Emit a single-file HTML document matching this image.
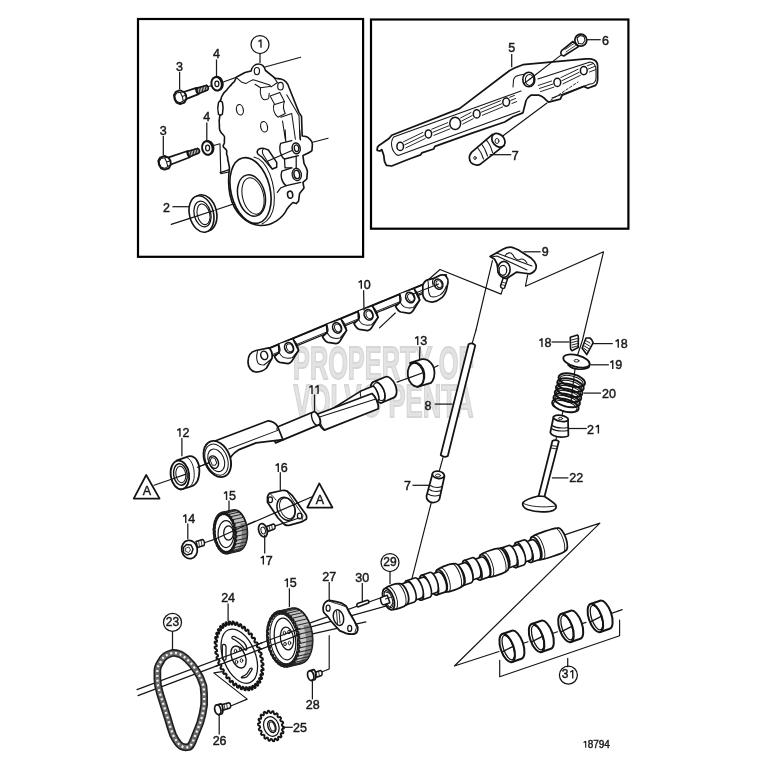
<!DOCTYPE html>
<html><head><meta charset="utf-8"><style>
html,body{margin:0;padding:0;background:#fff;}
svg{display:block;will-change:transform;}
text{font-family:"Liberation Sans",sans-serif;font-size:12.5px;fill:#1a1a1a;stroke:#1a1a1a;stroke-width:0.45px;}
</style></head><body>
<svg width="763" height="763" viewBox="0 0 763 763">

<g fill="none" stroke="#000" stroke-width="2.2">
<rect x="138" y="19" width="225.1" height="237.8"/>
<rect x="371" y="19.5" width="257.4" height="209.2"/>
</g>

<g style="font-family:'Liberation Sans',sans-serif;font-weight:bold">
<text x="293" y="379" textLength="181" lengthAdjust="spacingAndGlyphs" style="font-size:46.5px;fill:#e3e3e3;stroke:#d6d6d6;stroke-width:1.8px">PROPERTY OF</text>
<text x="293.5" y="417" textLength="180" lengthAdjust="spacingAndGlyphs" style="font-size:46.5px;fill:#e3e3e3;stroke:#d6d6d6;stroke-width:1.8px">VOLVO PENTA</text>
</g>

<g fill="none" stroke="#141414" stroke-width="1.15" stroke-linejoin="round" stroke-linecap="round">
<!-- axis lines -->
<line x1="223.9" y1="81.8" x2="250" y2="72.4"/>
<line x1="208.6" y1="86.5" x2="212" y2="85.5"/>
<line x1="265" y1="67" x2="300.6" y2="57.2"/>
<line x1="309" y1="143.3" x2="328" y2="138.2"/>
<line x1="171.2" y1="224.4" x2="189" y2="218.6"/>
<line x1="214" y1="210.5" x2="260.9" y2="194.9"/>
<line x1="220" y1="172.6" x2="296" y2="148.6"/>
<!-- bracket lower washer -->
<polyline points="213.5,145.5 220,143.8 220.8,173.6 229,172"/>
<!-- timing cover outline -->
<path fill="#fff" stroke-width="1.62" d="M236.6,77 L245,72.5 L251,71 C252,67 255,64 258.2,64 C261.5,64 264.5,66.5 265.5,70.5 L275.3,78.3 C277,78.8 279,78.5 281,79 C285,80 288,84 289,87.5 L298.9,112.4 L301.5,116.4 L302.2,136 C305,136 308,137 309.6,138.9 C311.5,140.5 312.4,142.5 312.4,144.5 L311.9,150.6 C310,152.5 306,154 302.9,155.6 L304,163.4 C305.5,166 307,169 307.4,171.2 L306.8,179 L302.9,182.4 L304,188 L299.6,193.5 L298.5,201.3 L296.2,203.6 L292.9,202.5 L289.6,205.8 L287,209 C283,218 272,226 260,225.5 C248,225 234,214 230,195 C228,185 228.5,175 229.5,168 L228.3,161.7 C227.2,159.5 228.2,157 227,155.2 C225.8,153 227.5,151.5 226.4,150 C225,148.5 223,147.5 223.1,146 C223.2,144.5 225,143.5 224.4,142.1 C224,139.5 225.5,137 223.8,135.5 C222,134 220.5,132.5 219.8,130.3 C218.8,127 219.8,125 219.2,122.4 C218.8,119 220.2,117 219.8,114.6 L219.2,102.8 C219.8,100.5 221,99.8 221.1,98.8 C221.2,96.5 222.5,95.5 223.1,94.2 C223.8,92 226,91 227,89.7 C227.8,88 229.8,86.5 231,85.1 C231.8,83.5 233.2,82.8 234.2,81.8 Z"/>
<!-- holes -->
<ellipse cx="256.9" cy="71.1" rx="2.6" ry="3.6"/>
<ellipse cx="280.5" cy="86.2" rx="2.8" ry="3.8"/>
<ellipse cx="239.9" cy="109.8" rx="3.4" ry="5.3" transform="rotate(-12 239.9 109.8)"/>
<ellipse cx="264.1" cy="126.8" rx="3.4" ry="5.3" transform="rotate(-12 264.1 126.8)"/>



<!-- inner ribs -->
<path stroke-width="1.03" d="M237.3,78.3 L241.9,82.3 L245.8,83.6 L249.1,81.6 L253,79.7 L255,80.2 L269.7,85.1 L271.1,86.9 L277.5,82.5"/>
<path stroke-width="1.03" d="M255,84.2 L260.5,87.8 L269.7,86.5 M260.5,87.8 C260,91 260.5,95 261.4,97 C262.5,99 264,100 265.1,99.8 C267,99.5 268.5,98.8 268.8,97.9 L269.2,93.3"/>
<path stroke-width="1.03" d="M270.1,96.1 L279.8,92.4 L284.4,101.6 L274.7,104.4 Z"/>
<path stroke-width="1.03" d="M274,104.5 C272.5,108 274,114.5 277.9,117.2 L285.3,113.5 C283.5,110 283,105 284.4,101.6"/>
<path stroke-width="1.03" d="M280.7,117.2 L291.7,113.5 L295.4,139.2 M282.5,120.9 L285.3,139.2"/>
<path stroke-width="1.03" d="M273.3,76.8 L277,81.9 M286.7,94.7 L299,115.8 L300,139.2"/>


<path fill="#fff" stroke-width="1.50" d="M218.5,102.5 C217.6,106 217.6,111 218.5,114.2 C219.5,115.3 221.5,115.2 222.4,114 C223.3,110.5 223.3,106 222.4,102.3 C221.5,100.8 219.4,100.9 218.5,102.5 Z"/>
<!-- right lugs -->
<path fill="#fff" stroke-width="1.38" d="M291.8,140.6 L280.6,143.4 C279.5,146 279.5,152 281.2,154.5 C282,157 283,158.5 284.5,159 L298.5,155.6"/>
<ellipse cx="296.2" cy="148.4" rx="4" ry="5.4" transform="rotate(-10 296.2 148.4)" fill="#fff" stroke-width="1.50"/>
<ellipse cx="296.5" cy="148.4" rx="2.2" ry="3.4" transform="rotate(-10 296.2 148.4)" stroke-width="1.25"/>
<path stroke-width="1.25" d="M284.5,159 L285,167.9 L291.8,167.9 M296.2,156 L296.2,167.9"/>
<path fill="#fff" stroke-width="1.38" d="M291.8,167.9 L281.8,171.2 C280.5,175 281,182 286.2,185.7 L300.7,182.4"/>
<ellipse cx="296.8" cy="174.5" rx="4.6" ry="6.2" transform="rotate(-10 296.8 174.5)" stroke-width="1.25"/>
<ellipse cx="296.8" cy="174.5" rx="2.8" ry="4.2" transform="rotate(-10 296.8 174.5)" fill="#fff" stroke-width="1.50"/>
<ellipse cx="290.1" cy="194.7" rx="2.6" ry="3.6" transform="rotate(-10 290.1 194.7)" stroke-width="1.50"/>
<path stroke-width="1.25" d="M280.6,188 L286.2,185.7 M277.3,192.4 L280.6,188"/>
<path fill="#fff" stroke-width="1.50" d="M257.8,150 C259,148.5 262,148 263.9,148.4 L268.4,150 L276.7,162.3 L276.7,167.3 L272.3,169 L268.4,164.6 L261.7,156.8 L257.8,154 C257,152.5 257,151 257.8,150 Z"/>
<path stroke-width="1.03" d="M263.9,148.4 C262,150 262,153 264,156 L272.3,169"/>
<path stroke-width="1.25" d="M285.1,130 L285.7,141.1 M299.6,130 L300.5,140"/>
<line x1="268" y1="161" x2="292" y2="150.5" stroke-width="1.25"/>
<!-- boss -->
<ellipse cx="250.5" cy="190.5" rx="19.5" ry="33.5" transform="rotate(-14 250.5 190.5)" stroke-width="1.62"/>
<path stroke-width="1.03" d="M254,157 C268,160 276,185 274,205 C273,214 268,221 262,224"/>
<ellipse cx="251.5" cy="195.5" rx="13.5" ry="21" transform="rotate(-14 251.5 195.5)" stroke-width="1.50"/>
<ellipse cx="253" cy="196" rx="10.5" ry="18.5" transform="rotate(-14 253 196)" stroke-width="1.03"/>
<!-- bolts -->
<g transform="translate(179.6,97.4) rotate(-19.6)">
<path fill="#fff" stroke-width="1.62" d="M18.45866050895871,-3.0 L28.95866050895871,-2.4 C30.758660508958712,-1.8 30.758660508958712,1.8 28.95866050895871,2.4 L18.45866050895871,3.0 Z"/>
<path stroke-width="0.92" d="M19.9,-2.8 L18.9,2.8 M21.5,-2.8 L20.5,2.8 M23.1,-2.8 L22.1,2.8 M24.7,-2.8 L23.7,2.8 M26.3,-2.8 L25.3,2.8 M27.9,-2.8 L26.9,2.8 M29.5,-2.8 L28.5,2.8"/>
<path fill="#fff" stroke-width="1.75" d="M4,-3.8 L18.95866050895871,-3.3 C17.45866050895871,-2.5 17.45866050895871,2.5 18.95866050895871,3.3 L4,3.8 Z"/>
<path fill="#fff" stroke-width="1.88" d="M-4.6,-4 L-1.8,-6.4 L2.8,-6.6 L6,-3.6 L6.8,0 L6,3.6 L2.8,6.6 L-1.8,6.4 L-4.6,4 L-5.3,0 Z"/>
<path stroke-width="1.03" d="M-4,-3 L-1.3,-5.2 L2.3,-4.7 L2.8,0 L2.3,4.7 L-1.3,5.2 L-4,3 L-4.5,0 Z M2.3,-4.7 L6,-3.6 M2.8,0 L6.8,0 M2.3,4.7 L6,3.6"/>
</g>
<g transform="translate(164,163) rotate(-19.8)">
<path fill="#fff" stroke-width="1.62" d="M25.73711700699989,-3.0 L36.23711700699989,-2.4 C38.037117006999885,-1.8 38.037117006999885,1.8 36.23711700699989,2.4 L25.73711700699989,3.0 Z"/>
<path stroke-width="0.92" d="M27.1,-2.8 L26.1,2.8 M28.7,-2.8 L27.7,2.8 M30.3,-2.8 L29.3,2.8 M31.9,-2.8 L30.9,2.8 M33.5,-2.8 L32.5,2.8 M35.1,-2.8 L34.1,2.8 M36.7,-2.8 L35.7,2.8"/>
<path fill="#fff" stroke-width="1.75" d="M4,-3.8 L26.23711700699989,-3.3 C24.73711700699989,-2.5 24.73711700699989,2.5 26.23711700699989,3.3 L4,3.8 Z"/>
<path fill="#fff" stroke-width="1.88" d="M-4.6,-4 L-1.8,-6.4 L2.8,-6.6 L6,-3.6 L6.8,0 L6,3.6 L2.8,6.6 L-1.8,6.4 L-4.6,4 L-5.3,0 Z"/>
<path stroke-width="1.03" d="M-4,-3 L-1.3,-5.2 L2.3,-4.7 L2.8,0 L2.3,4.7 L-1.3,5.2 L-4,3 L-4.5,0 Z M2.3,-4.7 L6,-3.6 M2.8,0 L6.8,0 M2.3,4.7 L6,3.6"/>
</g>
<!-- washers -->
<ellipse cx="217.6" cy="83.5" rx="5.2" ry="6.8" transform="rotate(-12 217.6 83.5)" fill="#fff" stroke-width="1.88"/>
<ellipse cx="216.6" cy="83.8" rx="5.2" ry="6.8" transform="rotate(-12 216.6 83.8)" fill="#fff" stroke-width="2.00"/>
<ellipse cx="216.9" cy="83.8" rx="2" ry="2.8" stroke-width="1.25"/>
<ellipse cx="208.3" cy="147.7" rx="5.2" ry="6.8" transform="rotate(-12 208.3 147.7)" fill="#fff" stroke-width="1.88"/>
<ellipse cx="207.3" cy="148" rx="5.2" ry="6.8" transform="rotate(-12 207.3 148)" fill="#fff" stroke-width="2.00"/>
<ellipse cx="207.60000000000002" cy="148" rx="2" ry="2.8" stroke-width="1.25"/>

<!-- seal 2 -->
<ellipse cx="204" cy="213" rx="12.5" ry="18.5" transform="rotate(-14 204 213)" fill="#fff" stroke-width="1.62"/>
<ellipse cx="201.5" cy="214" rx="12" ry="18.5" transform="rotate(-14 201.5 214)" fill="#fff" stroke-width="1.62"/>
<ellipse cx="202.5" cy="214" rx="8.3" ry="13" transform="rotate(-14 202.5 214)" stroke-width="1.25"/>
<ellipse cx="203.5" cy="214.3" rx="6.2" ry="10.5" transform="rotate(-14 203.5 214.3)" stroke-width="1.03"/>
<line x1="189" y1="218.6" x2="214" y2="210.5" stroke-width="1.25"/>
</g>

<g fill="none" stroke="#141414" stroke-width="1.15" stroke-linejoin="round" stroke-linecap="round">
<!-- rail outline -->
<path fill="#fff" stroke-width="1.75" d="M391.7,135.2 L459.5,108.6 L505,74 C508,71.5 511,69.5 514.5,68 L522.9,64.7 L585.8,58.8 L590.7,58.8 C595,59.5 597.6,62 597.6,65.7 L597.6,79.5 C597.6,82 597,84 595.6,85.4 L587.8,88.3 L583.8,86.4 L562.2,95.2 L560.3,99.1 L548.5,102.1 C545,99 542,95.5 538.6,95.2 L530.8,95.2 C528,97 526.5,99 525.9,101.1 L522.9,112.9 L513.1,116.8 L504.7,122 L472,133.2 L434.9,146.4 L433.6,149 L421.8,152.9 L420.5,154.9 L410,158.8 L404.8,160.8 L391.7,166 L386.4,165.4 L384.5,161.4 L383.8,155.5 L381.8,149.6 L379.9,151 L377.2,150.3 C377,148 377.5,146.5 378.6,145.7 L389,138.5 Z"/>
<!-- face -->
<path stroke-width="1.03" d="M393.6,137 L521,91 M398.2,155.5 L520,111 M393.6,137 C390,142 391,152 398.2,155.5"/>
<path stroke-width="1.03" d="M538,79 L590,62 C594,62 596,66 596,70 L596,78 C596,82 593,84 590,84 L552,98"/>
<path stroke-width="1.03" d="M513,87 L513.5,80 C514,77 517,75.5 520,75 L526,74"/>
<!-- grooves left -->
<path stroke-width="0.92" d="M403.6,141.7 L422.9,132.4 M404.7,144.8 L424.0,135.5 M405.8,147.9 L425.1,138.6 M431.7,129.2 L447.6,122.7 M432.8,132.3 L448.7,125.8 M433.9,135.4 L449.8,128.9 M460.6,117.9 L471.0,112.5 M461.7,121.0 L472.1,115.6 M462.8,124.1 L473.2,118.7 M480.2,109.1 L500.5,100.7 M481.3,112.2 L501.6,103.8 M482.4,115.3 L502.7,106.9 M509.7,97.3 L514.5,95.4 M510.8,100.4 L515.6,98.5 M511.9,103.5 L516.7,101.6 M538.3,85.4 L551.6,81.0 M539.4,88.5 L552.7,84.1 M540.5,91.6 L553.8,87.2 M560.8,77.6 L578.1,69.2 M561.9,80.7 L579.2,72.3 M563.0,83.8 L580.3,75.4 M587.3,65.8 L593.5,63.4 M588.4,68.9 L594.6,66.5 M589.5,72.0 L595.7,69.6"/>
<!-- holes -->
<ellipse cx="400.2" cy="146.4" rx="3.3" ry="4.1" fill="#fff" stroke-width="1.50"/>
<ellipse cx="428.4" cy="133.9" rx="3.2" ry="4" fill="#fff" stroke-width="1.50"/>
<ellipse cx="455.2" cy="123.4" rx="5.4" ry="6.2" fill="#fff" stroke-width="1.50"/>
<ellipse cx="476.7" cy="113.9" rx="3.4" ry="4.1" fill="#fff" stroke-width="1.50"/>
<ellipse cx="506.2" cy="102.1" rx="3.4" ry="4.1" fill="#fff" stroke-width="1.50"/>
<ellipse cx="557.3" cy="82.4" rx="3.4" ry="4.1" fill="#fff" stroke-width="1.50"/>
<ellipse cx="583.8" cy="70.6" rx="3.4" ry="4.1" fill="#fff" stroke-width="1.50"/>
<ellipse cx="528.8" cy="79.5" rx="6" ry="7.3" fill="#fff" stroke-width="1.62"/>
<ellipse cx="529.5" cy="80" rx="4.2" ry="5.4" stroke-width="1.03"/>
<line x1="530" y1="79" x2="524" y2="83.5" stroke-width="1.03"/>
<line x1="502.7" y1="136" x2="547" y2="103"/>
<path stroke-width="0.92" stroke-dasharray="2.5 2" d="M551,100 L578,82"/>
<line x1="562" y1="54.4" x2="530" y2="79"/>
<!-- bolt 6 -->
<path fill="#fff" stroke-width="1.62" d="M573,41.5 L561.6,50.7 C560,52.5 561,55 562.5,55.6 C563.5,56 564.5,55.8 564.8,55.3 L578.5,46.6 Z"/>
<path stroke-width="0.80" d="M565,49.5 L574,43.5 M566,52 L575.5,45.5"/>
<circle cx="580.8" cy="40.1" r="6" fill="#fff" stroke-width="1.75"/>
<path stroke-width="1.03" d="M577,38 L580,35.5 L584,36.5 L585,40.5 L582.5,44 L578.5,43.5 Z"/>
<!-- lifter 7 -->
<path fill="#fff" stroke-width="1.75" d="M492.5,134.4 L471.7,152.1 C468,156 469,162 473,164 C476,165.5 479,165 480.7,163.9 L504.3,145.4 Z"/>
<ellipse cx="498.4" cy="140.3" rx="5.8" ry="7.6" transform="rotate(-42 498.4 140.3)" fill="#fff" stroke-width="1.75"/>
<path stroke-width="1.03" d="M486.2,139.9 C489,143 491,147 492.5,152.5 M481.5,144 C484,147 486,151 487.5,156 M477.5,147.5 C480,150.5 482,154 483.5,159"/>
<ellipse cx="497" cy="141" rx="2" ry="2.5" stroke-width="0.92"/>
<ellipse cx="475" cy="158" rx="1.2" ry="1.5" stroke-width="0.92"/>
</g>

<g fill="none" stroke="#141414" stroke-width="1.15" stroke-linejoin="round" stroke-linecap="round">
<polyline points="427.5,280.5 440,269.5 501.1,294.1 502.5,289.5"/>
<line x1="379.5" y1="327.9" x2="395.3" y2="313"/>
<polyline points="527.7,274.9 525.4,286.3 603.5,251.8 582.5,340"/>
<line x1="492.4" y1="260.6" x2="476" y2="330"/>
<line x1="472.3" y1="342.8" x2="476" y2="330"/>
<path fill="#fff" stroke-width="1.38" d="M258,352.9 L446,274.9 L446,283.9 L258,361.9 Z"/>
<line x1="258" y1="352.9" x2="446" y2="274.9" stroke-width="1.88"/>
<line x1="258" y1="360.5" x2="446" y2="282.5" stroke-width="0.92"/>
<g transform="translate(289.1,347.8)"><path fill="#fff" stroke-width="1.75" d="M-10.5,-3.5 L-10,4.6 L-14.6,8.8 C-13,12 -11,14 -9.2,14.5 L-1,15.8 C1,15.5 2,14.5 2.8,13.3 L9.5,2.5 L4.2,-8.2"/><path stroke-width="1.03" d="M-10,4.6 C-8,9 -5,10.5 -1,10.5 L3,10 L9.5,2.5"/><path stroke-width="1.03" d="M-10.5,-3.5 C-9,0 -8,3 -10,4.6 M4.2,-8.2 C7,-6 9,-1 9.5,2.5"/><ellipse cx="0" cy="0" rx="4.3" ry="5.4" transform="rotate(-25)" fill="#fff" stroke-width="1.62"/><ellipse cx="0.6" cy="0.3" rx="3" ry="4" transform="rotate(-25)" stroke-width="0.92"/></g>
<g transform="translate(337.1,327.9)"><path fill="#fff" stroke-width="1.75" d="M-10.5,-3.5 L-10,4.6 L-14.6,8.8 C-13,12 -11,14 -9.2,14.5 L-1,15.8 C1,15.5 2,14.5 2.8,13.3 L9.5,2.5 L4.2,-8.2"/><path stroke-width="1.03" d="M-10,4.6 C-8,9 -5,10.5 -1,10.5 L3,10 L9.5,2.5"/><path stroke-width="1.03" d="M-10.5,-3.5 C-9,0 -8,3 -10,4.6 M4.2,-8.2 C7,-6 9,-1 9.5,2.5"/><ellipse cx="0" cy="0" rx="4.3" ry="5.4" transform="rotate(-25)" fill="#fff" stroke-width="1.62"/><ellipse cx="0.6" cy="0.3" rx="3" ry="4" transform="rotate(-25)" stroke-width="0.92"/></g>
<g transform="translate(368.6,314.8)"><path fill="#fff" stroke-width="1.75" d="M-10.5,-3.5 L-10,4.6 L-14.6,8.8 C-13,12 -11,14 -9.2,14.5 L-1,15.8 C1,15.5 2,14.5 2.8,13.3 L9.5,2.5 L4.2,-8.2"/><path stroke-width="1.03" d="M-10,4.6 C-8,9 -5,10.5 -1,10.5 L3,10 L9.5,2.5"/><path stroke-width="1.03" d="M-10.5,-3.5 C-9,0 -8,3 -10,4.6 M4.2,-8.2 C7,-6 9,-1 9.5,2.5"/><ellipse cx="0" cy="0" rx="4.3" ry="5.4" transform="rotate(-25)" fill="#fff" stroke-width="1.62"/><ellipse cx="0.6" cy="0.3" rx="3" ry="4" transform="rotate(-25)" stroke-width="0.92"/></g>
<g transform="translate(410.2,297.5)"><path fill="#fff" stroke-width="1.75" d="M-10.5,-3.5 L-10,4.6 L-14.6,8.8 C-13,12 -11,14 -9.2,14.5 L-1,15.8 C1,15.5 2,14.5 2.8,13.3 L9.5,2.5 L4.2,-8.2"/><path stroke-width="1.03" d="M-10,4.6 C-8,9 -5,10.5 -1,10.5 L3,10 L9.5,2.5"/><path stroke-width="1.03" d="M-10.5,-3.5 C-9,0 -8,3 -10,4.6 M4.2,-8.2 C7,-6 9,-1 9.5,2.5"/><ellipse cx="0" cy="0" rx="4.3" ry="5.4" transform="rotate(-25)" fill="#fff" stroke-width="1.62"/><ellipse cx="0.6" cy="0.3" rx="3" ry="4" transform="rotate(-25)" stroke-width="0.92"/></g>
<path fill="#fff" stroke-width="1.75" d="M248,362 C248,355.5 251.5,351.5 256,350.5 L268.8,347.8 C271.5,350 272.5,354 272.1,358 L266.5,368 C263.5,371 259.5,372 255.7,372 C251,371.5 248,367 248,362 Z"/>
<ellipse cx="264.2" cy="355.4" rx="3.4" ry="4.3" transform="rotate(-20 264.2 355.4)" stroke-width="1.50"/>
<path stroke-width="1.03" d="M257.5,351.5 C256.5,355 256.5,360 258,363 C259,364.5 261,365 264,365 L271.5,359"/>
<path fill="#fff" stroke-width="1.75" d="M422.8,285.4 C424,282 425.5,280.5 427.5,279.9 L433.8,278.4 L440.1,275.2 C443,274.5 445.5,275 446.4,276.8 C447.8,278.5 448.2,280.5 448,282.3 L446.4,290.2 C445,294 442.5,297.5 440.1,298.8 C437.5,301 435,302 432.2,302 C429.5,302 427.5,301.5 425.9,300.4 C424,298.5 423,296.5 422.8,294.9 Z"/>
<path stroke-width="1.03" d="M427.5,279.9 C428.5,282 428.5,285.5 428.3,288.6 C428.5,292 429,294.5 430.7,296.5 C434,297.5 437.5,296.5 440.1,294.9 C443,293 445,290 446.4,286 M433.8,278.4 C432.5,280 432.3,283 433,285"/>
<ellipse cx="438.5" cy="284.2" rx="4.2" ry="5.2" transform="rotate(-25 438.5 284.2)" fill="#fff" stroke-width="1.62"/>
<ellipse cx="439" cy="284.4" rx="2.7" ry="3.6" transform="rotate(-25 438.5 284.2)" stroke-width="0.92"/>
<line x1="413" y1="294" x2="438.5" y2="283.9" stroke-width="1.03"/>
<path fill="#fff" stroke-width="1.75" d="M490.1,256.5 L502.9,249.2 C506,247.5 509,247 512.1,247.3 C514.5,248 516.5,249 518.5,250.1 L531.4,258.3 C534,260.5 535.5,262.5 536,264.8 C536.5,267 536,269 535,270.3 C533,272.5 531,273.8 529.5,273.9 L523.1,273 L516.7,272.1 L512.1,274.9 L509.4,276.7 L505,280 L498.3,272.1 L497,263.9 L494.7,259.3 Z"/>
<path stroke-width="1.03" d="M491,257 L497,256 L527,270 M496.5,253 L532,266"/>
<path stroke-width="1.03" d="M505,256 C507,252 511,252 513,255 C514,258 517,260 519,260 C521,258 525,259 527,263"/>
<ellipse cx="503.9" cy="269.4" rx="6.2" ry="8" fill="#fff" stroke-width="1.62"/>
<ellipse cx="502.9" cy="270.3" rx="3.8" ry="5" stroke-width="1.25"/>
<path fill="#fff" stroke-width="1.50" d="M503.2,278 L500.5,286 C500.5,288 503,289 504.5,288 L507.5,279 Z"/>
<path stroke-width="0.80" d="M501.5,282 L505.5,283 M501,284.5 L505,285.5"/>
</g>
<g fill="none" stroke="#141414" stroke-width="1.15" stroke-linejoin="round" stroke-linecap="round">
<line x1="197.3" y1="467.2" x2="206" y2="464"/>
<line x1="397" y1="382.1" x2="409" y2="377.8"/>
<line x1="433.7" y1="367.7" x2="438.1" y2="365.6"/>
<g transform="translate(217.3,459) rotate(-22.6)">
<path fill="#fff" stroke-width="1.75" d="M174,-11.2 L186.5,-11.2 A6.2,11.2 0 0 1 186.5,11.2 L174,11.2 A6.2,11.2 0 0 1 174,-11.2 Z"/>
<ellipse cx="174" cy="0" rx="6.2" ry="11.2" fill="#fff" stroke-width="1.62"/>
<ellipse cx="175.2" cy="0" rx="4.9" ry="9.4" stroke-width="1.03"/>
<path fill="#fff" stroke-width="1.62" d="M122,-1.5 L158,-7.5 L172,-7.5 C174,-4 174,4 172,7.5 L158,8 L150,5 Z"/>
<path stroke-width="1.03" d="M158,-7.5 C155.5,-3 155.5,4 158,8"/>
<path fill="#fff" stroke-width="1.75" d="M108,-3 L168,-1 C170,3 170.5,11 168,15.5 L110,14.5 C107,11 106.5,2 108,-3 Z"/>
<path stroke-width="1.03" d="M110.5,0.5 L168.6,5.4 M110.5,14.5 C108.5,10 108.5,3 110.5,0.5"/>
<path fill="#fff" stroke-width="1.75" d="M60,-6.5 L108,-6.5 C111,-3 111,5 108,7.5 L60,7.5 Z"/>
<path stroke-width="1.38" d="M105,-6.5 C102,-3 102,5 105,7.5"/>
<path fill="#fff" stroke-width="1.75" d="M4,-17.5 L61,-15.8 C65,-14.5 68,-10 68.2,-6.5 L68,7.4 L42,0 L23,-0.3 C14,1 9,6 6,10 Z"/>
<path stroke-width="1.03" d="M14.4,-4.8 L66.8,-3.2 M68.2,-6.5 C66,-5 66,-4 66.8,-3.2"/>
<ellipse cx="0" cy="0" rx="12.7" ry="18.8" fill="#fff" stroke-width="1.88"/>
<ellipse cx="-1" cy="0.3" rx="10.8" ry="16.2" stroke-width="1.03"/>
<ellipse cx="-1.5" cy="0.8" rx="7.8" ry="11.8" stroke-width="1.03"/>
<ellipse cx="-4.5" cy="1.5" rx="4.5" ry="6.5" stroke-width="1.38"/>
<path stroke-width="0.92" d="M-7,-1.5 L-4.5,-3.5 L-2,-1.5 L-2,3.5 L-4.5,5 L-7,3.5 Z"/>
</g>
<line x1="204.8" y1="464.2" x2="209" y2="462.8" stroke-width="1.25"/>
<!-- bushing 13 -->
<path fill="#fff" stroke-width="1.75" d="M410.1,362.8 L421.9,359.2 C429,358.5 434.5,365 434.5,373 C434.5,380 431,384 429.1,383.4 L417.3,387 Z"/>
<ellipse cx="416.1" cy="374.6" rx="8.3" ry="12.1" transform="rotate(-8 416.1 374.6)" fill="#fff" stroke-width="1.75"/>
<path stroke-width="1.25" d="M412,363 C418,362 423,368 423.5,375 C424,381 422,385.5 419.5,386.5"/>
<line x1="409" y1="377.8" x2="422.2" y2="373" stroke-width="1.25"/>
<!-- push rod 8 -->
<path fill="#fff" stroke-width="1.75" d="M468.6,344.3 C470.5,343.2 473.5,343.5 475.3,345.3 L447.8,456 C446,457 443,457 440.7,455 Z"/>
<line x1="443" y1="457.7" x2="438.9" y2="472.5"/>
<!-- lifter 7 lower -->
<path fill="#fff" stroke-width="1.75" d="M432.5,474 L426.5,496 C426,500 429.5,502.5 433,502.5 C436.5,502.5 439,500.5 439.5,499 L444.5,476 Z"/>
<ellipse cx="438.3" cy="474.8" rx="6" ry="3.6" transform="rotate(10 438.3 474.8)" fill="#fff" stroke-width="1.75"/>
<path stroke-width="1.03" d="M430.5,485.5 C433,487.5 438,488 442,486.5 M429.5,489.5 C432,491.5 437,492 441,490.5 M428,494 C431,496 436,496.5 440,495"/>
<ellipse cx="438" cy="475.5" rx="2.5" ry="1.5" stroke-width="0.92"/>
<line x1="431.3" y1="502.5" x2="411.5" y2="580.3"/>
</g>

<g fill="none" stroke="#141414" stroke-width="1.15" stroke-linejoin="round" stroke-linecap="round">
<line x1="582.5" y1="340" x2="576" y2="360"/>
<line x1="575" y1="369" x2="571" y2="402"/>
<line x1="563" y1="411" x2="561.5" y2="418"/>
<line x1="556.5" y1="436.5" x2="556" y2="440"/>
<path fill="#fff" stroke-width="1.62" d="M570.3,337.3 L577.4,335 C578.5,335.5 578.5,336.5 578.4,338 L578.2,347.5 L571.9,350.7 C571,350 570.5,349 570.5,348 Z"/>
<path stroke-width="0.92" d="M571.5,340 L577.5,338.5 M571.8,342.5 L577.7,341 M572,345 L577.8,343.5 M572,347.5 L577.8,346"/>
<path fill="#fff" stroke-width="1.62" d="M586,338 L590,338 C591.5,339 592.5,340.5 593.1,342.8 L586.8,354.6 L582.1,348.3 Z"/>
<path stroke-width="0.92" d="M585.5,340.5 L590,343 M584.5,343 L589.5,346 M583.5,345.5 L588.5,348.5 M583.5,348 L587.5,351"/>
<path fill="#fff" stroke-width="1.62" d="M568,364.9 C571,368 576,369.5 580.8,369.2 C585,369 588,368 589.3,366.6"/>
<ellipse cx="576.5" cy="361" rx="13.6" ry="5.8" transform="rotate(15 576.5 361)" fill="#fff" stroke-width="1.75"/>
<ellipse cx="576.5" cy="360.8" rx="2.5" ry="1.3" stroke-width="0.92"/>
<ellipse cx="565.4" cy="405.4" rx="13.6" ry="6.2" transform="rotate(15 565.4 405.4)" stroke-width="1.88" />
<ellipse cx="565.4" cy="406.3" rx="12" ry="5" transform="rotate(15 565.4 405.4)" stroke-width="0.92" />
<ellipse cx="566.7" cy="400.4" rx="13.6" ry="6.2" transform="rotate(15 566.7 400.4)" stroke-width="1.88" />
<ellipse cx="566.7" cy="401.3" rx="12" ry="5" transform="rotate(15 566.7 400.4)" stroke-width="0.92" />
<ellipse cx="568.0" cy="395.3" rx="13.6" ry="6.2" transform="rotate(15 568.0 395.3)" stroke-width="1.88" />
<ellipse cx="568.0" cy="396.2" rx="12" ry="5" transform="rotate(15 568.0 395.3)" stroke-width="0.92" />
<ellipse cx="569.2" cy="390.3" rx="13.6" ry="6.2" transform="rotate(15 569.2 390.3)" stroke-width="1.88" />
<ellipse cx="569.2" cy="391.2" rx="12" ry="5" transform="rotate(15 569.2 390.3)" stroke-width="0.92" />
<ellipse cx="570.5" cy="385.2" rx="13.6" ry="6.2" transform="rotate(15 570.5 385.2)" stroke-width="1.88" />
<ellipse cx="570.5" cy="386.1" rx="12" ry="5" transform="rotate(15 570.5 385.2)" stroke-width="0.92" />
<ellipse cx="571.8" cy="380.2" rx="13.6" ry="6.2" transform="rotate(15 571.8 380.2)" stroke-width="1.88" />
<ellipse cx="571.8" cy="381.1" rx="12" ry="5" transform="rotate(15 571.8 380.2)" stroke-width="0.92" />
<path fill="#fff" stroke-width="1.75" d="M553.5,417 L550.3,432.5 C551,435 556,437 561,437 C565,437 568,436.5 568.4,435.5 L568,419.5 Z"/>
<ellipse cx="560.8" cy="418.3" rx="7.5" ry="3" transform="rotate(10 560.8 418.3)" fill="#fff" stroke-width="1.75"/>
<path stroke-width="1.03" d="M552,425.5 C555,427.5 562,428.5 568.2,427.5 M551.5,428.5 C554.5,430.5 561.5,431.5 568.3,430.5"/>
<ellipse cx="560.5" cy="418.5" rx="2.2" ry="1" stroke-width="0.92"/>
<path fill="#fff" stroke-width="1.75" d="M538.5,496.5 L552.4,441 C554,439.8 557.5,439.8 558.8,441.5 L544.5,496.5"/>
<path stroke-width="0.92" d="M551.5,445.5 L557.5,446.5 M551,448 L557,449"/>
<path fill="#fff" stroke-width="1.75" d="M523,502.5 C525.5,499.5 532,497.5 538.5,496 L544.5,496.5 C548.5,499 553,502 555.8,505 C557,508 555,510.5 550,511.3 C543,512.2 533,511.5 527.5,509.5 C523.5,508 522,505 523,502.5 Z"/>
<path stroke-width="0.92" d="M523.5,503.5 C529,506.5 543,508 555.5,506"/>
</g>
<g fill="none" stroke="#141414" stroke-width="1.15" stroke-linejoin="round" stroke-linecap="round">
<path fill="#fff" stroke-width="1.75" d="M146.2,475 L133.7,498.6 L159.6,498.6 Z"/>
<text x="146.8" y="495.2" text-anchor="middle" stroke="none" fill="#222" style="font-size:12.5px">A</text>
<line x1="154.1" y1="485.3" x2="172.2" y2="479"/>
<g transform="translate(1,-1.5)">
<path fill="#fff" stroke-width="1.75" d="M176,461.8 L187.5,457.8 C195,456.5 198.5,465 198.4,472 C198.3,480 195.5,486.5 190,488 L180,491 Z"/>
<ellipse cx="178.9" cy="476.4" rx="9.2" ry="14.4" transform="rotate(-8 178.9 476.4)" fill="#fff" stroke-width="1.88"/>
<ellipse cx="179.4" cy="476" rx="6.8" ry="10.8" transform="rotate(-8 179.4 476)" stroke-width="1.38"/>
<ellipse cx="179.8" cy="476" rx="4.9" ry="8.3" transform="rotate(-8 179.8 476)" stroke-width="1.03"/>
<path stroke-width="0.92" d="M186,459 C192,462 194,472 193,480 C192,485 190,488 187,489.5"/>
</g>
<line x1="172.2" y1="479" x2="186" y2="474.2" stroke-width="1.25"/>
<line x1="197.3" y1="467.2" x2="204" y2="464.7"/>
<path fill="#fff" stroke-width="1.75" d="M267.5,497 C268,495 269,493.5 270.1,493.1 L281.9,490.5 C284,490 286,490.5 287.2,491.1 L292.4,495.7 L305.5,514.1 C306.5,515.5 306.8,518 306.2,519.3 L301.6,521.9 L289.8,525.2 C288,525.5 286,525.3 284.6,524.6 L278,518 L267.5,502.3 Z"/>
<path stroke-width="0.92" d="M270,493.5 C273,496 274,498 276,500 M287,491.5 L290.5,497 L303,515.5 L302,520"/>
<ellipse cx="286.1" cy="508.8" rx="8.6" ry="12" transform="rotate(-22 286.1 508.8)" stroke-width="1.50"/>
<ellipse cx="287.2" cy="508.3" rx="7" ry="10.8" transform="rotate(-22 287.2 508.3)" stroke-width="0.92"/>
<ellipse cx="270.3" cy="499.7" rx="2.2" ry="2.8" stroke-width="1.25"/>
<ellipse cx="299.6" cy="516" rx="2.2" ry="2.8" stroke-width="1.25"/>
<path fill="#fff" stroke-width="1.75" d="M319.3,483.3 L307.3,507.5 L332.4,507.5 Z"/>
<text x="319.8" y="503.5" text-anchor="middle" stroke="none" fill="#222" style="font-size:12.5px">A</text>
<line x1="246.6" y1="525.2" x2="311.4" y2="497" stroke-width="1.25"/>
<line x1="274.7" y1="526.2" x2="299" y2="518" stroke-width="1.25"/>
<path fill="#fff" stroke-width="1.50" d="M266.5,526.5 L273.5,524 C275.5,524.5 275.5,528 274.5,529 L268,531.5 Z"/>
<path stroke-width="0.80" d="M269,525.5 L270,530.5 M271.5,524.8 L272.5,529.5"/>
<ellipse cx="262.9" cy="530.3" rx="4.2" ry="6.8" transform="rotate(-15 262.9 530.3)" fill="#fff" stroke-width="1.75"/>
<ellipse cx="263.2" cy="530.5" rx="2.2" ry="3.5" transform="rotate(-15 263.2 530.5)" stroke-width="0.92"/>
<line x1="205.1" y1="542.5" x2="216" y2="538.8" stroke-width="1.25"/>
<line x1="244" y1="526" x2="255" y2="521.2" stroke-width="1.25"/>
<path d="M213.66,530.60 L213.66,529.89 L213.67,529.18 L213.70,528.48 L213.74,527.78 L213.80,527.09 L213.87,526.41 L213.95,525.74 L214.04,525.07 L214.15,524.42 L214.28,523.77 L214.41,523.14 L214.56,522.51 L214.72,521.91 L214.90,521.31 L215.08,520.73 L215.28,520.16 L215.49,519.61 L215.71,519.08 L215.95,518.56 L216.19,518.06 L216.45,517.58 L216.71,517.11 L216.99,516.67 L217.27,516.25 L217.57,515.84 L217.87,515.46 L218.18,515.10 L218.50,514.76 L218.83,514.44 L219.17,514.15 L219.51,513.88 L219.86,513.63 L220.22,513.40 L220.58,513.20 L220.95,513.03 L221.32,512.88 L221.69,512.75 L222.07,512.64 L233.07,510.14 L233.46,510.07 L233.85,510.01 L234.24,509.98 L234.63,509.98 L235.02,510.00 L235.42,510.05 L235.81,510.12 L236.21,510.22 L236.61,510.34 L237.00,510.48 L237.39,510.65 L237.79,510.85 L238.18,511.07 L238.56,511.31 L238.95,511.57 L239.33,511.86 L239.70,512.17 L240.08,512.51 L240.44,512.86 L240.81,513.24 L241.16,513.64 L241.51,514.05 L241.85,514.49 L242.19,514.95 L242.52,515.43 L242.84,515.92 L243.15,516.43 L243.45,516.96 L243.75,517.51 L244.03,518.07 L244.31,518.65 L244.57,519.24 L244.82,519.85 L245.07,520.47 L245.30,521.10 L245.52,521.74 L245.73,522.39 L245.93,523.06 L246.11,523.73 L246.29,524.41 L246.45,525.10 L246.60,525.79 L246.73,526.49 L246.85,527.19 L246.96,527.90 L247.06,528.62 L247.14,529.33 L247.21,530.04 L247.26,530.76 L247.30,531.48 L247.33,532.19 L247.34,532.90 L247.34,533.61 L247.33,534.32 L247.30,535.02 L247.26,535.72 L247.20,536.41 L247.13,537.09 L247.05,537.76 L246.96,538.43 L246.85,539.08 L246.72,539.73 L246.59,540.36 L246.44,540.99 L246.28,541.59 L246.10,542.19 L245.92,542.77 L245.72,543.34 L245.51,543.89 L245.29,544.42 L245.05,544.94 L244.81,545.44 L244.55,545.92 L244.29,546.39 L244.01,546.83 L243.73,547.25 L243.43,547.66 L243.13,548.04 L242.82,548.40 L242.50,548.74 L242.17,549.06 L241.83,549.35 L241.49,549.62 L241.14,549.87 L240.78,550.10 L240.42,550.30 L240.05,550.47 L239.68,550.62 L239.31,550.75 L238.93,550.86 L227.93,553.36 L227.54,553.43 L227.15,553.49 L226.76,553.52 L226.37,553.52 L225.98,553.50 L225.58,553.45 L225.19,553.38 L224.79,553.28 L224.39,553.16 L224.00,553.02 L223.61,552.85 L223.21,552.65 L222.82,552.43 L222.44,552.19 L222.05,551.93 L221.67,551.64 L221.30,551.33 L220.92,550.99 L220.56,550.64 L220.19,550.26 L219.84,549.86 L219.49,549.45 L219.15,549.01 L218.81,548.55 L218.48,548.07 L218.16,547.58 L217.85,547.07 L217.55,546.54 L217.25,545.99 L216.97,545.43 L216.69,544.85 L216.43,544.26 L216.18,543.65 L215.93,543.03 L215.70,542.40 L215.48,541.76 L215.27,541.11 L215.07,540.44 L214.89,539.77 L214.71,539.09 L214.55,538.40 L214.40,537.71 L214.27,537.01 L214.15,536.31 L214.04,535.60 L213.94,534.88 L213.86,534.17 L213.79,533.46 L213.74,532.74 L213.70,532.02 L213.67,531.31 Z" fill="#c0c0c0" stroke="#141414" stroke-width="1.75"/>
<path d="M240.23,523.64 L240.70,525.32 L241.10,527.04 L241.41,528.80 L241.64,530.58 L241.78,532.37 L241.84,534.15 L241.82,535.92 L241.70,537.66 L241.51,539.35 L241.22,540.98 L240.86,542.54 L240.42,544.02 L239.90,545.41 L239.31,546.69 L238.65,547.86 L237.93,548.91 L237.16,549.82 L236.33,550.60 L235.46,551.24 L234.55,551.72 L233.62,552.06 L232.65,552.24 L231.67,552.26 L237.17,551.01 L238.15,550.99 L239.12,550.81 L240.05,550.47 L240.96,549.99 L241.83,549.35 L242.66,548.57 L243.43,547.66 L244.15,546.61 L244.81,545.44 L245.40,544.16 L245.92,542.77 L246.36,541.29 L246.72,539.73 L247.01,538.10 L247.20,536.41 L247.32,534.67 L247.34,532.90 L247.28,531.12 L247.14,529.33 L246.91,527.55 L246.60,525.79 L246.20,524.07 L245.73,522.39 Z" fill="#555" stroke="none" opacity="0.6"/>
<line x1="219.16" y1="514.16" x2="230.16" y2="511.66" stroke="#2a2a2a" stroke-width="1.03"/>
<line x1="221.35" y1="512.86" x2="232.35" y2="510.36" stroke="#2a2a2a" stroke-width="1.03"/>
<line x1="223.71" y1="512.48" x2="234.71" y2="509.98" stroke="#2a2a2a" stroke-width="1.03"/>
<line x1="226.12" y1="513.03" x2="237.12" y2="510.53" stroke="#2a2a2a" stroke-width="1.03"/>
<line x1="228.49" y1="514.49" x2="239.49" y2="511.99" stroke="#2a2a2a" stroke-width="1.03"/>
<line x1="230.70" y1="516.79" x2="241.70" y2="514.29" stroke="#2a2a2a" stroke-width="1.03"/>
<line x1="232.65" y1="519.82" x2="243.65" y2="517.32" stroke="#2a2a2a" stroke-width="1.03"/>
<line x1="234.25" y1="523.45" x2="245.25" y2="520.95" stroke="#2a2a2a" stroke-width="1.03"/>
<line x1="235.43" y1="527.52" x2="246.43" y2="525.02" stroke="#2a2a2a" stroke-width="1.03"/>
<line x1="236.14" y1="531.83" x2="247.14" y2="529.33" stroke="#2a2a2a" stroke-width="1.03"/>
<line x1="236.34" y1="536.20" x2="247.34" y2="533.70" stroke="#2a2a2a" stroke-width="1.03"/>
<line x1="236.03" y1="540.42" x2="247.03" y2="537.92" stroke="#2a2a2a" stroke-width="1.03"/>
<line x1="235.22" y1="544.30" x2="246.22" y2="541.80" stroke="#2a2a2a" stroke-width="1.03"/>
<line x1="233.94" y1="547.67" x2="244.94" y2="545.17" stroke="#2a2a2a" stroke-width="1.03"/>
<line x1="232.26" y1="550.38" x2="243.26" y2="547.88" stroke="#2a2a2a" stroke-width="1.03"/>
<line x1="230.25" y1="552.30" x2="241.25" y2="549.80" stroke="#2a2a2a" stroke-width="1.03"/>
<line x1="228.00" y1="553.34" x2="239.00" y2="550.84" stroke="#2a2a2a" stroke-width="1.03"/>
<line x1="225.62" y1="553.46" x2="236.62" y2="550.96" stroke="#2a2a2a" stroke-width="1.03"/>
<line x1="223.20" y1="552.65" x2="234.20" y2="550.15" stroke="#2a2a2a" stroke-width="1.03"/>
<path d="M236.14,531.83 L236.24,532.90 L235.40,533.90 L235.43,534.88 L236.34,536.11 L236.32,537.17 L235.36,537.80 L235.28,538.75 L236.05,540.26 L235.90,541.26 L234.87,541.49 L234.67,542.36 L235.28,544.09 L235.01,544.98 L233.94,544.81 L233.65,545.57 L234.05,547.44 L233.68,548.18 L232.63,547.62 L232.24,548.22 L232.43,550.16 L231.98,550.72 L230.98,549.78 L230.52,550.21 L230.49,552.12 L229.96,552.49 L229.07,551.21 L228.56,551.45 L228.31,553.25 L227.73,553.40 L226.98,551.85 L226.44,551.88 L225.98,553.50 L225.38,553.42 L224.81,551.66 L224.26,551.48 L223.61,552.85 L223.02,552.55 L222.64,550.66 L222.11,550.28 L221.30,551.33 L220.74,550.82 L220.58,548.88 L220.09,548.33 L219.15,549.01 L218.65,548.31 L218.71,546.41 L218.28,545.70 L217.25,545.99 L216.83,545.14 L217.12,543.36 L216.77,542.52 L215.70,542.40 L215.37,541.43 L215.87,539.85 L215.61,538.92 L214.55,538.40 L214.34,537.36 L215.02,536.04 L214.87,535.06 L213.86,534.17 L213.76,533.10 L214.60,532.10 L214.57,531.12 L213.66,529.89 L213.68,528.83 L214.64,528.20 L214.72,527.25 L213.95,525.74 L214.10,524.74 L215.13,524.51 L215.33,523.64 L214.72,521.91 L214.99,521.02 L216.06,521.19 L216.35,520.43 L215.95,518.56 L216.32,517.82 L217.37,518.38 L217.76,517.78 L217.57,515.84 L218.02,515.28 L219.02,516.22 L219.48,515.79 L219.51,513.88 L220.04,513.51 L220.93,514.79 L221.44,514.55 L221.69,512.75 L222.27,512.60 L223.02,514.15 L223.56,514.12 L224.02,512.50 L224.62,512.58 L225.19,514.34 L225.74,514.52 L226.39,513.15 L226.98,513.45 L227.36,515.34 L227.89,515.72 L228.70,514.67 L229.26,515.18 L229.42,517.12 L229.91,517.67 L230.85,516.99 L231.35,517.69 L231.29,519.59 L231.72,520.30 L232.75,520.01 L233.17,520.86 L232.88,522.64 L233.23,523.48 L234.30,523.60 L234.63,524.57 L234.13,526.15 L234.39,527.08 L235.45,527.60 L235.66,528.64 L234.98,529.96 L235.13,530.94 Z" fill="#fff" stroke="#1e1e1e" stroke-width="2.12"/>
<ellipse cx="225" cy="533" rx="9.8" ry="19" transform="rotate(-6 225 533)" stroke-width="1.03"/>
<ellipse cx="226" cy="534" rx="8" ry="13.5" stroke-width="1.25"/>
<ellipse cx="228.5" cy="533" rx="4.8" ry="7.2" stroke-width="1.25"/>
<line x1="216" y1="538.8" x2="244" y2="526" stroke-width="1.25"/>
<path fill="#fff" stroke-width="1.50" d="M196,541.5 L202.5,539.5 C204.5,540 205,544 204,545.5 L197.5,547.5 Z"/>
<path stroke-width="0.80" d="M198.5,540.8 L199.5,546.5 M201,540 L202,545.8"/>
<ellipse cx="189.5" cy="549.5" rx="7.8" ry="9.2" transform="rotate(-10 189.5 549.5)" fill="#fff" stroke-width="1.75"/>
<path fill="#fff" stroke-width="1.50" d="M183.5,547.5 L186.5,544.5 L191,545 L193,549 L191.5,553.5 L187,555 L183.5,552.5 Z"/>
<path stroke-width="0.80" d="M186,548 L189,547 L190.5,550 L188.5,552.5 L186,551.5 Z"/>
</g>
<g fill="none" stroke="#141414" stroke-width="1.15" stroke-linejoin="round" stroke-linecap="round">
<line x1="137" y1="689.6" x2="310" y2="624.8"/>
<line x1="138" y1="695.6" x2="310" y2="630.6"/>
<line x1="310.3" y1="622.9" x2="383.7" y2="596.7"/>
<line x1="310.3" y1="627.1" x2="385.8" y2="606.1"/>
<line x1="310.3" y1="634.4" x2="365.9" y2="621.9"/>
<polyline points="222.3,671.6 213.8,672.9 247.2,699.1 230.8,706"/>
<polyline points="329.2,635.5 329.2,669 321.5,672"/>
<g transform="translate(180.5,700) scale(0.9,0.95) translate(-180.5,-700)"><path d="M171.4,650.5 C165,652 160.5,655 158.6,659.6 C155.5,664 154.5,667 154.8,670.1 C154.5,676 155,681 155.6,685.2 C157,691 158.5,696 160.1,700.3 L166.1,718.4 C168,725 170,731 172.1,736.5 C175,742 178,746.5 181.2,748.5 C184,750 187.5,750 190.2,749.3 C192.5,748 193.5,745 194.7,742.5 L202.3,724.4 C204.5,718 206,711 206.8,704.8 C207,698 206.8,691 206,685.2 C204,678 201,673 197.8,668.6 C194,663 190.5,659.5 187.2,656.6 C184,654 181,652 178.2,651.3 C176,650.6 173.5,650.3 171.4,650.5 Z" stroke="#1e1e1e" stroke-width="7.75" vector-effect="non-scaling-stroke"/><path d="M171.4,650.5 C165,652 160.5,655 158.6,659.6 C155.5,664 154.5,667 154.8,670.1 C154.5,676 155,681 155.6,685.2 C157,691 158.5,696 160.1,700.3 L166.1,718.4 C168,725 170,731 172.1,736.5 C175,742 178,746.5 181.2,748.5 C184,750 187.5,750 190.2,749.3 C192.5,748 193.5,745 194.7,742.5 L202.3,724.4 C204.5,718 206,711 206.8,704.8 C207,698 206.8,691 206,685.2 C204,678 201,673 197.8,668.6 C194,663 190.5,659.5 187.2,656.6 C184,654 181,652 178.2,651.3 C176,650.6 173.5,650.3 171.4,650.5 Z" stroke="#6a6a6a" stroke-width="4.50" vector-effect="non-scaling-stroke"/><path d="M171.4,650.5 C165,652 160.5,655 158.6,659.6 C155.5,664 154.5,667 154.8,670.1 C154.5,676 155,681 155.6,685.2 C157,691 158.5,696 160.1,700.3 L166.1,718.4 C168,725 170,731 172.1,736.5 C175,742 178,746.5 181.2,748.5 C184,750 187.5,750 190.2,749.3 C192.5,748 193.5,745 194.7,742.5 L202.3,724.4 C204.5,718 206,711 206.8,704.8 C207,698 206.8,691 206,685.2 C204,678 201,673 197.8,668.6 C194,663 190.5,659.5 187.2,656.6 C184,654 181,652 178.2,651.3 C176,650.6 173.5,650.3 171.4,650.5 Z" stroke="#f4f4f4" stroke-width="2.25" stroke-dasharray="2 2.8" vector-effect="non-scaling-stroke" stroke-linecap="butt"/><path d="M171.4,650.5 C165,652 160.5,655 158.6,659.6 C155.5,664 154.5,667 154.8,670.1 C154.5,676 155,681 155.6,685.2 C157,691 158.5,696 160.1,700.3 L166.1,718.4 C168,725 170,731 172.1,736.5 C175,742 178,746.5 181.2,748.5 C184,750 187.5,750 190.2,749.3 C192.5,748 193.5,745 194.7,742.5 L202.3,724.4 C204.5,718 206,711 206.8,704.8 C207,698 206.8,691 206,685.2 C204,678 201,673 197.8,668.6 C194,663 190.5,659.5 187.2,656.6 C184,654 181,652 178.2,651.3 C176,650.6 173.5,650.3 171.4,650.5 Z" stroke="#2a2a2a" stroke-width="0.80" stroke-dasharray="4.8 0" stroke-linecap="butt" transform="translate(0,0)" opacity="0"/></g>
<path transform="translate(239.1,655.9) rotate(-22)" d="M22.00,0.00 L21.98,1.41 L20.07,2.58 L19.99,3.87 L21.73,5.63 L21.58,7.02 L19.57,7.69 L19.37,8.94 L20.92,11.12 L20.64,12.46 L18.60,12.61 L18.28,13.79 L19.60,16.34 L19.19,17.59 L17.16,17.21 L16.74,18.30 L17.80,21.16 L17.28,22.29 L15.31,21.39 L14.78,22.36 L15.56,25.46 L14.93,26.44 L13.07,25.05 L12.46,25.87 L12.93,29.12 L12.22,29.93 L10.52,28.09 L9.84,28.74 L9.99,32.08 L9.21,32.69 L7.70,30.43 L6.97,30.90 L6.80,34.24 L5.97,34.65 L4.70,32.03 L3.93,32.31 L3.44,35.56 L2.59,35.75 L1.58,32.84 L0.79,32.91 L0.00,36.00 L-0.86,35.97 L-1.58,32.84 L-2.37,32.71 L-3.44,35.56 L-4.29,35.31 L-4.70,32.03 L-5.46,31.70 L-6.80,34.24 L-7.61,33.77 L-7.70,30.43 L-8.43,29.91 L-9.99,32.08 L-10.75,31.41 L-10.52,28.09 L-11.18,27.39 L-12.93,29.12 L-13.62,28.27 L-13.07,25.05 L-13.66,24.19 L-15.56,25.46 L-16.16,24.44 L-15.31,21.39 L-15.81,20.39 L-17.80,21.16 L-18.29,20.00 L-17.16,17.21 L-17.56,16.10 L-19.60,16.34 L-19.98,15.07 L-18.60,12.61 L-18.89,11.40 L-20.92,11.12 L-21.17,9.77 L-19.57,7.69 L-19.74,6.43 L-21.73,5.63 L-21.85,4.23 L-20.07,2.58 L-20.11,1.29 L-22.00,0.00 L-21.98,-1.41 L-20.07,-2.58 L-19.99,-3.87 L-21.73,-5.63 L-21.58,-7.02 L-19.57,-7.69 L-19.37,-8.94 L-20.92,-11.12 L-20.64,-12.46 L-18.60,-12.61 L-18.28,-13.79 L-19.60,-16.34 L-19.19,-17.59 L-17.16,-17.21 L-16.74,-18.30 L-17.80,-21.16 L-17.28,-22.29 L-15.31,-21.39 L-14.78,-22.36 L-15.56,-25.46 L-14.93,-26.44 L-13.07,-25.05 L-12.46,-25.87 L-12.93,-29.12 L-12.22,-29.93 L-10.52,-28.09 L-9.84,-28.74 L-9.99,-32.08 L-9.21,-32.69 L-7.70,-30.43 L-6.97,-30.90 L-6.80,-34.24 L-5.97,-34.65 L-4.70,-32.03 L-3.93,-32.31 L-3.44,-35.56 L-2.59,-35.75 L-1.58,-32.84 L-0.79,-32.91 L-0.00,-36.00 L0.86,-35.97 L1.58,-32.84 L2.37,-32.71 L3.44,-35.56 L4.29,-35.31 L4.70,-32.03 L5.46,-31.70 L6.80,-34.24 L7.61,-33.77 L7.70,-30.43 L8.43,-29.91 L9.99,-32.08 L10.75,-31.41 L10.52,-28.09 L11.18,-27.39 L12.93,-29.12 L13.62,-28.27 L13.07,-25.05 L13.66,-24.19 L15.56,-25.46 L16.16,-24.44 L15.31,-21.39 L15.81,-20.39 L17.80,-21.16 L18.29,-20.00 L17.16,-17.21 L17.56,-16.10 L19.60,-16.34 L19.98,-15.07 L18.60,-12.61 L18.89,-11.40 L20.92,-11.12 L21.17,-9.77 L19.57,-7.69 L19.74,-6.43 L21.73,-5.63 L21.85,-4.23 L20.07,-2.58 L20.11,-1.29 Z" fill="#fff" stroke-width="2.00"/>
<ellipse cx="239.3" cy="656.2" rx="16" ry="28.5" transform="rotate(-22 239.3 656.2)" stroke-width="1.25"/>
<ellipse cx="238.5" cy="657" rx="6.8" ry="11.5" transform="rotate(-22 238.5 657)" stroke-width="1.38"/>
<path stroke-width="1.25" d="M232.8,636.5 C234,636.3 235.3,636.8 236.4,637.5 C239.5,639 242,640.5 243.8,642.3 C245.5,644 246.5,646.5 246.9,648.5 C247,649.5 246.2,650.5 245.4,650.1 C244,648.5 243,647 241.7,645.4 C239.5,643 237.5,641.5 235.4,640.2 L232.3,638.6 C231.5,638 231.8,636.8 232.8,636.5 Z"/>
<path stroke-width="1.25" d="M241.7,677.9 C243.5,678 245.5,677.6 246.9,676.8 C248.5,675 250,673 251.1,671.1 L252.2,669 C252.2,668 251,667.8 250.1,668.5 C249,670.5 248,672.2 246.9,673.7 C245.5,675 244,675.8 242.7,676.3 C241.5,676.8 241,677.5 241.7,677.9 Z"/>
<path stroke-width="1.25" d="M222.3,645.4 C222.8,644.6 223.6,644.2 224.4,644.4 C225.3,644.8 225.9,645.5 226,646.4 L226,659 C225.9,659.8 224.8,660.4 223.9,660.1 C223,659.8 222.4,658.9 222.3,658 Z"/>
<ellipse cx="235.5" cy="651" rx="1.3" ry="1.8" stroke-width="0.92"/>
<ellipse cx="240.5" cy="649" rx="1.3" ry="1.8" stroke-width="0.92"/>
<ellipse cx="236.5" cy="662" rx="1.3" ry="1.8" stroke-width="0.92"/>
<ellipse cx="241.5" cy="660.5" rx="1.3" ry="1.8" stroke-width="0.92"/>
<line x1="216" y1="660.0" x2="262" y2="642.8" stroke-width="1.25"/>
<line x1="216" y1="666.1" x2="262" y2="648.7" stroke-width="1.25"/>
<path d="M266.98,634.35 L267.00,633.40 L267.03,632.45 L267.08,631.51 L267.15,630.58 L267.24,629.66 L267.35,628.75 L267.48,627.85 L267.63,626.96 L267.80,626.10 L267.99,625.24 L268.19,624.40 L268.42,623.58 L268.66,622.78 L268.92,622.00 L269.20,621.24 L269.49,620.50 L269.80,619.78 L270.13,619.09 L270.47,618.42 L270.83,617.78 L271.21,617.16 L271.60,616.57 L272.00,616.00 L272.42,615.46 L272.85,614.95 L273.30,614.48 L273.75,614.03 L274.22,613.61 L274.70,613.22 L275.19,612.86 L275.69,612.53 L276.19,612.24 L276.71,611.98 L277.24,611.75 L277.77,611.56 L278.31,611.40 L278.85,611.27 L291.85,608.27 L292.40,608.17 L292.96,608.11 L293.52,608.08 L294.08,608.09 L294.65,608.13 L295.21,608.21 L295.78,608.32 L296.35,608.46 L296.92,608.63 L297.49,608.84 L298.06,609.08 L298.62,609.36 L299.18,609.66 L299.74,610.00 L300.30,610.37 L300.85,610.77 L301.39,611.21 L301.93,611.67 L302.46,612.16 L302.98,612.68 L303.50,613.23 L304.01,613.80 L304.50,614.41 L304.99,615.04 L305.47,615.69 L305.93,616.37 L306.39,617.07 L306.83,617.80 L307.26,618.55 L307.67,619.32 L308.07,620.11 L308.46,620.92 L308.83,621.74 L309.19,622.59 L309.53,623.45 L309.86,624.32 L310.16,625.21 L310.46,626.12 L310.73,627.03 L310.99,627.96 L311.23,628.89 L311.45,629.84 L311.65,630.79 L311.83,631.74 L312.00,632.71 L312.14,633.67 L312.27,634.64 L312.38,635.61 L312.46,636.58 L312.53,637.55 L312.58,638.52 L312.61,639.49 L312.62,640.45 L312.60,641.40 L312.57,642.35 L312.52,643.29 L312.45,644.22 L312.36,645.14 L312.25,646.05 L312.12,646.95 L311.97,647.84 L311.80,648.70 L311.61,649.56 L311.41,650.40 L311.18,651.22 L310.94,652.02 L310.68,652.80 L310.40,653.56 L310.11,654.30 L309.80,655.02 L309.47,655.71 L309.13,656.38 L308.77,657.02 L308.39,657.64 L308.00,658.23 L307.60,658.80 L307.18,659.34 L306.75,659.85 L306.30,660.32 L305.85,660.77 L305.38,661.19 L304.90,661.58 L304.41,661.94 L303.91,662.27 L303.41,662.56 L302.89,662.82 L302.36,663.05 L301.83,663.24 L301.29,663.40 L300.75,663.53 L287.75,666.53 L287.20,666.63 L286.64,666.69 L286.08,666.72 L285.52,666.71 L284.95,666.67 L284.39,666.59 L283.82,666.48 L283.25,666.34 L282.68,666.17 L282.11,665.96 L281.54,665.72 L280.98,665.44 L280.42,665.14 L279.86,664.80 L279.30,664.43 L278.75,664.03 L278.21,663.59 L277.67,663.13 L277.14,662.64 L276.62,662.12 L276.10,661.57 L275.59,661.00 L275.10,660.39 L274.61,659.76 L274.13,659.11 L273.67,658.43 L273.21,657.73 L272.77,657.00 L272.34,656.25 L271.93,655.48 L271.53,654.69 L271.14,653.88 L270.77,653.06 L270.41,652.21 L270.07,651.35 L269.74,650.48 L269.44,649.59 L269.14,648.68 L268.87,647.77 L268.61,646.84 L268.37,645.91 L268.15,644.96 L267.95,644.01 L267.77,643.06 L267.60,642.09 L267.46,641.13 L267.33,640.16 L267.22,639.19 L267.14,638.22 L267.07,637.25 L267.02,636.28 L266.99,635.31 Z" fill="#c8c8c8" stroke="#141414" stroke-width="1.75"/>
<path d="M303.36,625.82 L304.10,628.07 L304.73,630.39 L305.24,632.77 L305.64,635.17 L305.92,637.60 L306.08,640.02 L306.11,642.43 L306.02,644.79 L305.81,647.10 L305.47,649.34 L305.01,651.48 L304.44,653.52 L303.76,655.43 L302.97,657.21 L302.08,658.84 L301.10,660.30 L300.03,661.59 L298.88,662.69 L297.66,663.61 L296.39,664.32 L295.06,664.83 L293.70,665.13 L292.30,665.22 L298.80,663.72 L300.20,663.63 L301.56,663.33 L302.89,662.82 L304.16,662.11 L305.38,661.19 L306.53,660.09 L307.60,658.80 L308.58,657.34 L309.47,655.71 L310.26,653.93 L310.94,652.02 L311.51,649.98 L311.97,647.84 L312.31,645.60 L312.52,643.29 L312.61,640.93 L312.58,638.52 L312.42,636.10 L312.14,633.67 L311.74,631.27 L311.23,628.89 L310.60,626.57 L309.86,624.32 Z" fill="#555" stroke="none" opacity="0.6"/>
<line x1="274.21" y1="613.62" x2="287.21" y2="610.62" stroke="#2a2a2a" stroke-width="1.03"/>
<line x1="276.59" y1="612.04" x2="289.59" y2="609.04" stroke="#2a2a2a" stroke-width="1.03"/>
<line x1="279.15" y1="611.21" x2="292.15" y2="608.21" stroke="#2a2a2a" stroke-width="1.03"/>
<line x1="281.83" y1="611.15" x2="294.83" y2="608.15" stroke="#2a2a2a" stroke-width="1.03"/>
<line x1="284.55" y1="611.87" x2="297.55" y2="608.87" stroke="#2a2a2a" stroke-width="1.03"/>
<line x1="287.24" y1="613.33" x2="300.24" y2="610.33" stroke="#2a2a2a" stroke-width="1.03"/>
<line x1="289.82" y1="615.51" x2="302.82" y2="612.51" stroke="#2a2a2a" stroke-width="1.03"/>
<line x1="292.21" y1="618.34" x2="305.21" y2="615.34" stroke="#2a2a2a" stroke-width="1.03"/>
<line x1="294.36" y1="621.74" x2="307.36" y2="618.74" stroke="#2a2a2a" stroke-width="1.03"/>
<line x1="296.20" y1="625.62" x2="309.20" y2="622.62" stroke="#2a2a2a" stroke-width="1.03"/>
<line x1="297.68" y1="629.87" x2="310.68" y2="626.87" stroke="#2a2a2a" stroke-width="1.03"/>
<line x1="298.76" y1="634.37" x2="311.76" y2="631.37" stroke="#2a2a2a" stroke-width="1.03"/>
<line x1="299.41" y1="638.99" x2="312.41" y2="635.99" stroke="#2a2a2a" stroke-width="1.03"/>
<line x1="299.62" y1="643.62" x2="312.62" y2="640.62" stroke="#2a2a2a" stroke-width="1.03"/>
<line x1="299.36" y1="648.11" x2="312.36" y2="645.11" stroke="#2a2a2a" stroke-width="1.03"/>
<line x1="298.66" y1="652.34" x2="311.66" y2="649.34" stroke="#2a2a2a" stroke-width="1.03"/>
<line x1="297.54" y1="656.21" x2="310.54" y2="653.21" stroke="#2a2a2a" stroke-width="1.03"/>
<line x1="296.01" y1="659.59" x2="309.01" y2="656.59" stroke="#2a2a2a" stroke-width="1.03"/>
<line x1="294.14" y1="662.39" x2="307.14" y2="659.39" stroke="#2a2a2a" stroke-width="1.03"/>
<line x1="291.96" y1="664.54" x2="304.96" y2="661.54" stroke="#2a2a2a" stroke-width="1.03"/>
<line x1="289.54" y1="665.98" x2="302.54" y2="662.98" stroke="#2a2a2a" stroke-width="1.03"/>
<line x1="286.94" y1="666.66" x2="299.94" y2="663.66" stroke="#2a2a2a" stroke-width="1.03"/>
<line x1="284.25" y1="666.57" x2="297.25" y2="663.57" stroke="#2a2a2a" stroke-width="1.03"/>
<line x1="281.53" y1="665.71" x2="294.53" y2="662.71" stroke="#2a2a2a" stroke-width="1.03"/>
<path d="M299.14,636.67 L299.30,637.88 L298.29,639.08 L298.38,640.21 L299.58,641.52 L299.61,642.73 L298.47,643.57 L298.44,644.68 L299.52,646.29 L299.43,647.45 L298.19,647.92 L298.04,648.97 L298.97,650.84 L298.76,651.92 L297.45,651.99 L297.20,652.95 L297.94,655.02 L297.61,655.99 L296.28,655.67 L295.93,656.51 L296.47,658.71 L296.04,659.54 L294.72,658.84 L294.27,659.54 L294.60,661.80 L294.07,662.47 L292.81,661.40 L292.29,661.93 L292.38,664.19 L291.78,664.67 L290.61,663.27 L290.03,663.63 L289.89,665.82 L289.23,666.10 L288.19,664.41 L287.56,664.57 L287.20,666.63 L286.50,666.70 L285.63,664.77 L284.97,664.74 L284.39,666.59 L283.68,666.45 L282.99,664.34 L282.33,664.12 L281.54,665.72 L280.84,665.37 L280.36,663.15 L279.71,662.73 L278.75,664.03 L278.07,663.48 L277.82,661.21 L277.20,660.62 L276.10,661.57 L275.47,660.85 L275.44,658.60 L274.88,657.85 L273.67,658.43 L273.10,657.55 L273.31,655.39 L272.82,654.50 L271.53,654.69 L271.05,653.68 L271.48,651.67 L271.07,650.68 L269.74,650.48 L269.36,649.36 L270.00,647.57 L269.70,646.50 L268.37,645.91 L268.10,644.73 L268.94,643.21 L268.74,642.09 L267.46,641.13 L267.30,639.92 L268.31,638.72 L268.22,637.59 L267.02,636.28 L266.99,635.07 L268.13,634.23 L268.16,633.12 L267.08,631.51 L267.17,630.35 L268.41,629.88 L268.56,628.83 L267.63,626.96 L267.84,625.88 L269.15,625.81 L269.40,624.85 L268.66,622.78 L268.99,621.81 L270.32,622.13 L270.67,621.29 L270.13,619.09 L270.56,618.26 L271.88,618.96 L272.33,618.26 L272.00,616.00 L272.53,615.33 L273.79,616.40 L274.31,615.87 L274.22,613.61 L274.82,613.13 L275.99,614.53 L276.57,614.17 L276.71,611.98 L277.37,611.70 L278.41,613.39 L279.04,613.23 L279.40,611.17 L280.10,611.10 L280.97,613.03 L281.63,613.06 L282.21,611.21 L282.92,611.35 L283.61,613.46 L284.27,613.68 L285.06,612.08 L285.76,612.43 L286.24,614.65 L286.89,615.07 L287.85,613.77 L288.53,614.32 L288.78,616.59 L289.40,617.18 L290.50,616.23 L291.13,616.95 L291.16,619.20 L291.72,619.95 L292.93,619.37 L293.50,620.25 L293.29,622.41 L293.78,623.30 L295.07,623.11 L295.55,624.12 L295.12,626.13 L295.53,627.12 L296.86,627.32 L297.24,628.44 L296.60,630.23 L296.90,631.30 L298.23,631.89 L298.50,633.07 L297.66,634.59 L297.86,635.71 Z" fill="#fff" stroke="#1e1e1e" stroke-width="2.12"/>
<ellipse cx="283.8" cy="639" rx="13.5" ry="25" transform="rotate(-8 283.8 639)" stroke-width="1.03"/>
<ellipse cx="285" cy="639" rx="10.5" ry="21" transform="rotate(-8 285 639)" stroke-width="1.25"/>
<ellipse cx="287" cy="638.5" rx="6.5" ry="11.5" transform="rotate(-8 287 638.5)" stroke-width="1.25"/>
<ellipse cx="284.5" cy="633" rx="1.3" ry="1.8" stroke-width="0.92"/>
<ellipse cx="289" cy="632" rx="1.3" ry="1.8" stroke-width="0.92"/>
<ellipse cx="285" cy="644" rx="1.3" ry="1.8" stroke-width="0.92"/>
<ellipse cx="289.5" cy="643" rx="1.3" ry="1.8" stroke-width="0.92"/>
<line x1="268" y1="640.5" x2="300" y2="628.5" stroke-width="1.25"/>
<line x1="268" y1="646.5" x2="300" y2="634.4" stroke-width="1.25"/>
<path fill="#fff" stroke-width="1.75" d="M323.1,607.5 C323.5,605 324,603.5 325.2,602.4 C326.5,601 328,600.3 329.6,600.3 L336,601.7 L341.8,603.2 L346.1,606 L349.7,613.3 L354.1,620.5 L357.7,627 C358,629 357.8,631 357,632 C356,633.5 354,634.2 351.9,634.2 C350,634.2 348,634 346.1,633.4 L339.6,630.6 L331.7,621.9 L327.4,616.1 L323.8,612.5 C323.2,611 323,609 323.1,607.5 Z"/>
<path stroke-width="0.92" d="M329,601 C333,603 340,604 345,606.5 M347,607 L353.5,619 L356.5,627.5 L355,632"/>
<ellipse cx="328.1" cy="608.2" rx="2" ry="3" stroke-width="1.25"/>
<ellipse cx="349.7" cy="628.4" rx="2" ry="3" stroke-width="1.25"/>
<ellipse cx="338.5" cy="617.6" rx="5" ry="8" transform="rotate(-15 338.5 617.6)" stroke-width="1.50"/>
<path stroke-width="0.92" d="M336.5,611 L337.5,623.5 M339,610.5 L340,623"/>
<path fill="#fff" stroke-width="1.62" d="M357.5,603.5 L367,600.3 C368.5,600 369.5,601.5 368.5,603 L358.5,606.8 C357,607 356,605.5 357.5,603.5 Z"/>
<path fill="#fff" stroke-width="1.50" d="M313,673 L320.5,670.5 C322.5,671 322.5,674.5 321.5,675.5 L314.5,678 Z"/>
<path stroke-width="0.80" d="M316,672 L317,677 M318.5,671.2 L319.5,676.2"/>
<path fill="#fff" stroke-width="1.75" d="M310.2,670.6999999999999 L313.7,669.6999999999999 C316.0,670.3 316.4,678.3 314.7,679.6999999999999 L311.2,680.5 Z"/><ellipse cx="310.7" cy="675.5999999999999" rx="3" ry="4.9" transform="rotate(-15 310.7 675.5999999999999)" fill="#fff" stroke-width="1.75"/>
<path fill="#fff" stroke-width="1.50" d="M220.5,705 L229,702.8 C231,703.5 231,707 230,708 L222,710.5 Z"/>
<path stroke-width="0.80" d="M224,704 L225,709.5 M226.5,703.3 L227.5,708.8"/>
<path fill="#fff" stroke-width="1.75" d="M217.3,704.8 L220.8,703.8 C223.10000000000002,704.4 223.5,712.4 221.8,713.8 L218.3,714.6 Z"/><ellipse cx="217.8" cy="709.6999999999999" rx="3" ry="4.9" transform="rotate(-15 217.8 709.6999999999999)" fill="#fff" stroke-width="1.75"/>
<path transform="translate(271,726) rotate(-20)" d="M12.60,0.00 L12.55,1.36 L10.67,2.33 L10.47,3.47 L11.84,5.34 L11.42,6.59 L9.38,6.71 L8.88,7.70 L9.65,10.03 L8.91,11.03 L6.97,10.28 L6.22,10.99 L6.30,13.51 L5.32,14.14 L3.71,12.61 L2.80,12.96 L2.19,15.36 L1.10,15.54 L0.00,13.42 L-0.94,13.36 L-2.19,15.36 L-3.26,15.07 L-3.71,12.61 L-4.58,12.16 L-6.30,13.51 L-7.23,12.78 L-6.97,10.28 L-7.66,9.49 L-9.65,10.03 L-10.32,8.95 L-9.38,6.71 L-9.82,5.67 L-11.84,5.34 L-12.17,4.04 L-10.67,2.33 L-10.79,1.17 L-12.60,0.00 L-12.55,-1.36 L-10.67,-2.33 L-10.47,-3.47 L-11.84,-5.34 L-11.42,-6.59 L-9.38,-6.71 L-8.88,-7.70 L-9.65,-10.03 L-8.91,-11.03 L-6.97,-10.28 L-6.22,-10.99 L-6.30,-13.51 L-5.32,-14.14 L-3.71,-12.61 L-2.80,-12.96 L-2.19,-15.36 L-1.10,-15.54 L-0.00,-13.42 L0.94,-13.36 L2.19,-15.36 L3.26,-15.07 L3.71,-12.61 L4.58,-12.16 L6.30,-13.51 L7.23,-12.78 L6.97,-10.28 L7.66,-9.49 L9.65,-10.03 L10.32,-8.95 L9.38,-6.71 L9.82,-5.67 L11.84,-5.34 L12.17,-4.04 L10.67,-2.33 L10.79,-1.17 Z" fill="#fff" stroke-width="1.88"/>
<ellipse cx="271.3" cy="726.5" rx="7.5" ry="10" transform="rotate(-20 271.3 726.5)" stroke-width="1.25"/>
<ellipse cx="271.8" cy="726.5" rx="3.8" ry="6.3" transform="rotate(-20 271.8 726.5)" stroke-width="1.38"/>
<ellipse cx="272.2" cy="726.5" rx="2.4" ry="4.8" transform="rotate(-20 272.2 726.5)" stroke-width="0.92"/>
</g>
<g fill="none" stroke="#141414" stroke-width="1.15" stroke-linejoin="round" stroke-linecap="round">
<polyline points="564.5,534.9 599.9,523.1 454.4,666 499,651.5"/>
<line x1="517" y1="645.5" x2="528" y2="641.8"/>
<line x1="546.5" y1="635.5" x2="557.5" y2="631.8"/>
<line x1="575.5" y1="625.8" x2="586" y2="622.4"/>
<line x1="604" y1="616" x2="622.2" y2="609.6"/>
<polyline points="499.7,660.2 499.7,676.7 619.6,635.8 619.6,620"/>
<g transform="translate(595.4,618.0) rotate(-19)"><path fill="#fff" stroke-width="2.00" d="M0,-14.8 L10,-14.8 A6.5,14.8 0 0 1 10,14.8 L0,14.8"/><ellipse cx="0" cy="0" rx="6.5" ry="14.8" fill="#fff" stroke-width="2.00"/><ellipse cx="1.2" cy="0" rx="5" ry="12.8" stroke-width="1.25"/><path stroke-width="0.92" d="M2,-12.5 A5,12.8 0 0 1 2,12.5"/><line x1="-5.5" y1="2" x2="5.5" y2="0.5" stroke-width="1.25"/></g>
<g transform="translate(566.0,628.0) rotate(-19)"><path fill="#fff" stroke-width="2.00" d="M0,-14.8 L10,-14.8 A6.5,14.8 0 0 1 10,14.8 L0,14.8"/><ellipse cx="0" cy="0" rx="6.5" ry="14.8" fill="#fff" stroke-width="2.00"/><ellipse cx="1.2" cy="0" rx="5" ry="12.8" stroke-width="1.25"/><path stroke-width="0.92" d="M2,-12.5 A5,12.8 0 0 1 2,12.5"/><line x1="-5.5" y1="2" x2="5.5" y2="0.5" stroke-width="1.25"/></g>
<g transform="translate(536.6,638.0) rotate(-19)"><path fill="#fff" stroke-width="2.00" d="M0,-14.8 L10,-14.8 A6.5,14.8 0 0 1 10,14.8 L0,14.8"/><ellipse cx="0" cy="0" rx="6.5" ry="14.8" fill="#fff" stroke-width="2.00"/><ellipse cx="1.2" cy="0" rx="5" ry="12.8" stroke-width="1.25"/><path stroke-width="0.92" d="M2,-12.5 A5,12.8 0 0 1 2,12.5"/><line x1="-5.5" y1="2" x2="5.5" y2="0.5" stroke-width="1.25"/></g>
<g transform="translate(507.2,648.0) rotate(-19)"><path fill="#fff" stroke-width="2.00" d="M0,-14.8 L10,-14.8 A6.5,14.8 0 0 1 10,14.8 L0,14.8"/><ellipse cx="0" cy="0" rx="6.5" ry="14.8" fill="#fff" stroke-width="2.00"/><ellipse cx="1.2" cy="0" rx="5" ry="12.8" stroke-width="1.25"/><path stroke-width="0.92" d="M2,-12.5 A5,12.8 0 0 1 2,12.5"/><line x1="-5.5" y1="2" x2="5.5" y2="0.5" stroke-width="1.25"/></g>
<g transform="translate(393.3,597.4) rotate(-19)">
<path fill="#fff" stroke-width="1.62" d="M117,-7.5 L150,-7.5 L150,7.5 L117,7.5 Z"/>
<path fill="#fff" stroke-width="1.62" d="M69,-7.5 L96,-7.5 L96,7.5 L69,7.5 Z"/>
<path fill="#fff" stroke-width="1.62" d="M12,-7.5 L50,-7.5 L50,7.5 L12,7.5 Z"/>
<path fill="#fff" stroke-width="1.75" d="M151,-12.0 C154,-13.5 175,-13.5 178,-12.0 A4.5,12.0 0 0 1 178,12.0 C175,13.5 154,13.5 151,12.0 A4.5,12.0 0 0 1 151,-12.0 Z"/>
<ellipse cx="151" cy="0" rx="4.5" ry="12.0" fill="#fff" stroke-width="1.75"/>
<path stroke-width="0.92" d="M154,-12.899999999999999 A4.5,12.7 0 0 1 154,12.899999999999999"/>
<path stroke-width="0.92" d="M175,-12.899999999999999 A4.5,12.7 0 0 1 175,12.899999999999999"/>
<path fill="#fff" stroke-width="1.62" d="M142,-9.4 L150,-9.4 A4.2,10.6 0 0 1 150,11.799999999999999 L142,11.799999999999999 A4.2,10.6 0 0 1 142,-9.4 Z"/>
<ellipse cx="142" cy="1.2" rx="4.2" ry="10.6" fill="#fff" stroke-width="1.62"/>
<path stroke-width="0.92" d="M143.5,-6.219999999999999 C146,-0.9200000000000002 146,4.38 143.5,9.68"/>
<path fill="#fff" stroke-width="1.62" d="M134,-11.799999999999999 L142,-11.799999999999999 A4.2,10.6 0 0 1 142,9.4 L134,9.4 A4.2,10.6 0 0 1 134,-11.799999999999999 Z"/>
<ellipse cx="134" cy="-1.2" rx="4.2" ry="10.6" fill="#fff" stroke-width="1.62"/>
<path stroke-width="0.92" d="M135.5,-8.62 C138,-3.3200000000000003 138,1.9799999999999998 135.5,7.28"/>
<path fill="#fff" stroke-width="1.62" d="M126,-9.4 L134,-9.4 A4.2,10.6 0 0 1 134,11.799999999999999 L126,11.799999999999999 A4.2,10.6 0 0 1 126,-9.4 Z"/>
<ellipse cx="126" cy="1.2" rx="4.2" ry="10.6" fill="#fff" stroke-width="1.62"/>
<path stroke-width="0.92" d="M127.5,-6.219999999999999 C130,-0.9200000000000002 130,4.38 127.5,9.68"/>
<path fill="#fff" stroke-width="1.62" d="M118,-11.5 L126,-11.5 A4.2,10.6 0 0 1 126,9.7 L118,9.7 A4.2,10.6 0 0 1 118,-11.5 Z"/>
<ellipse cx="118" cy="-0.8999999999999999" rx="4.2" ry="10.6" fill="#fff" stroke-width="1.62"/>
<path stroke-width="0.92" d="M119.5,-8.319999999999999 C122,-3.02 122,2.28 119.5,7.58"/>
<path fill="#fff" stroke-width="1.75" d="M97,-11.8 C100,-13.3 113,-13.3 116,-11.8 A4.5,11.8 0 0 1 116,11.8 C113,13.3 100,13.3 97,11.8 A4.5,11.8 0 0 1 97,-11.8 Z"/>
<ellipse cx="97" cy="0" rx="4.5" ry="11.8" fill="#fff" stroke-width="1.75"/>
<path stroke-width="0.92" d="M100,-12.7 A4.5,12.5 0 0 1 100,12.7"/>
<path stroke-width="0.92" d="M113,-12.7 A4.5,12.5 0 0 1 113,12.7"/>
<path fill="#fff" stroke-width="1.62" d="M88,-9.4 L96.5,-9.4 A4.2,10.6 0 0 1 96.5,11.799999999999999 L88,11.799999999999999 A4.2,10.6 0 0 1 88,-9.4 Z"/>
<ellipse cx="88" cy="1.2" rx="4.2" ry="10.6" fill="#fff" stroke-width="1.62"/>
<path stroke-width="0.92" d="M89.5,-6.219999999999999 C92,-0.9200000000000002 92,4.38 89.5,9.68"/>
<path fill="#fff" stroke-width="1.62" d="M79,-11.799999999999999 L87.5,-11.799999999999999 A4.2,10.6 0 0 1 87.5,9.4 L79,9.4 A4.2,10.6 0 0 1 79,-11.799999999999999 Z"/>
<ellipse cx="79" cy="-1.2" rx="4.2" ry="10.6" fill="#fff" stroke-width="1.62"/>
<path stroke-width="0.92" d="M80.5,-8.62 C83,-3.3200000000000003 83,1.9799999999999998 80.5,7.28"/>
<path fill="#fff" stroke-width="1.62" d="M70,-9.7 L78.5,-9.7 A4.2,10.6 0 0 1 78.5,11.5 L70,11.5 A4.2,10.6 0 0 1 70,-9.7 Z"/>
<ellipse cx="70" cy="0.8999999999999999" rx="4.2" ry="10.6" fill="#fff" stroke-width="1.62"/>
<path stroke-width="0.92" d="M71.5,-6.52 C74,-1.2200000000000002 74,4.08 71.5,9.38"/>
<path fill="#fff" stroke-width="1.75" d="M51,-11.8 C54,-13.3 66,-13.3 69,-11.8 A4.5,11.8 0 0 1 69,11.8 C66,13.3 54,13.3 51,11.8 A4.5,11.8 0 0 1 51,-11.8 Z"/>
<ellipse cx="51" cy="0" rx="4.5" ry="11.8" fill="#fff" stroke-width="1.75"/>
<path stroke-width="0.92" d="M54,-12.7 A4.5,12.5 0 0 1 54,12.7"/>
<path stroke-width="0.92" d="M66,-12.7 A4.5,12.5 0 0 1 66,12.7"/>
<path fill="#fff" stroke-width="1.62" d="M42,-9.4 L50.5,-9.4 A4.2,10.6 0 0 1 50.5,11.799999999999999 L42,11.799999999999999 A4.2,10.6 0 0 1 42,-9.4 Z"/>
<ellipse cx="42" cy="1.2" rx="4.2" ry="10.6" fill="#fff" stroke-width="1.62"/>
<path stroke-width="0.92" d="M43.5,-6.219999999999999 C46,-0.9200000000000002 46,4.38 43.5,9.68"/>
<path fill="#fff" stroke-width="1.62" d="M34,-11.799999999999999 L42.5,-11.799999999999999 A4.2,10.6 0 0 1 42.5,9.4 L34,9.4 A4.2,10.6 0 0 1 34,-11.799999999999999 Z"/>
<ellipse cx="34" cy="-1.2" rx="4.2" ry="10.6" fill="#fff" stroke-width="1.62"/>
<path stroke-width="0.92" d="M35.5,-8.62 C38,-3.3200000000000003 38,1.9799999999999998 35.5,7.28"/>
<path fill="#fff" stroke-width="1.62" d="M26,-9.4 L34.5,-9.4 A4.2,10.6 0 0 1 34.5,11.799999999999999 L26,11.799999999999999 A4.2,10.6 0 0 1 26,-9.4 Z"/>
<ellipse cx="26" cy="1.2" rx="4.2" ry="10.6" fill="#fff" stroke-width="1.62"/>
<path stroke-width="0.92" d="M27.5,-6.219999999999999 C30,-0.9200000000000002 30,4.38 27.5,9.68"/>
<path fill="#fff" stroke-width="1.62" d="M18,-11.5 L26.5,-11.5 A4.2,10.6 0 0 1 26.5,9.7 L18,9.7 A4.2,10.6 0 0 1 18,-11.5 Z"/>
<ellipse cx="18" cy="-0.8999999999999999" rx="4.2" ry="10.6" fill="#fff" stroke-width="1.62"/>
<path stroke-width="0.92" d="M19.5,-8.319999999999999 C22,-3.02 22,2.28 19.5,7.58"/>
<path fill="#fff" stroke-width="1.62" d="M10,-10.0 L18.5,-10.0 A4.2,10.6 0 0 1 18.5,11.2 L10,11.2 A4.2,10.6 0 0 1 10,-10.0 Z"/>
<ellipse cx="10" cy="0.6" rx="4.2" ry="10.6" fill="#fff" stroke-width="1.62"/>
<path stroke-width="0.92" d="M11.5,-6.819999999999999 C14,-1.52 14,3.78 11.5,9.08"/>
<path fill="#fff" stroke-width="1.75" d="M-5,-11.100000000000001 C-2,-12.600000000000001 7,-12.600000000000001 10,-11.100000000000001 A5,11.100000000000001 0 0 1 10,11.100000000000001 C7,12.600000000000001 -2,12.600000000000001 -5,11.100000000000001 A5,11.100000000000001 0 0 1 -5,-11.100000000000001 Z"/>
<ellipse cx="-5" cy="0" rx="5" ry="11.100000000000001" fill="#fff" stroke-width="1.75"/>
<path stroke-width="0.92" d="M-2,-12.0 A5,11.8 0 0 1 -2,12.0"/>
<path stroke-width="0.92" d="M7,-12.0 A5,11.8 0 0 1 7,12.0"/>
<ellipse cx="-5" cy="0" rx="3.5" ry="9" stroke-width="1.03"/>
<path fill="#fff" stroke-width="1.50" d="M-11,-4 L-5,-4 L-5,4 L-11,4 A2,4 0 0 1 -11,-4 Z"/>
<path stroke-width="0.92" d="M-6,-8 L-2,-5 M-6,8 L-2,5 M-8,-1 L-2,-1"/>
</g>
</g>

<g stroke="#1a1a1a" stroke-width="1.25" fill="none">
<line x1="260" y1="53.5" x2="260" y2="63"/>
<line x1="216.5" y1="59.5" x2="216.5" y2="76"/>
<line x1="179.6" y1="72" x2="179.6" y2="89"/>
<line x1="206.8" y1="122.5" x2="206.8" y2="140"/>
<line x1="163.3" y1="136" x2="163.3" y2="155"/>
<line x1="172.4" y1="206.7" x2="189" y2="206.7"/>
<line x1="511.7" y1="54" x2="511.7" y2="67.3"/>
<line x1="586" y1="39.7" x2="600.7" y2="39.7"/>
<line x1="489.7" y1="154.7" x2="511.3" y2="154.7"/>
<line x1="523.5" y1="251.8" x2="540.6" y2="251.8"/>
<line x1="363.6" y1="290.3" x2="364" y2="310.5"/>
<line x1="420" y1="346.5" x2="419.5" y2="359.5"/>
<line x1="314.5" y1="394.5" x2="314.5" y2="412"/>
<line x1="434.8" y1="404.1" x2="452.6" y2="404.1"/>
<line x1="551.5" y1="342" x2="569.5" y2="342"/>
<line x1="593.1" y1="343.6" x2="612.8" y2="343.6"/>
<line x1="589.2" y1="364.8" x2="608.9" y2="364.8"/>
<line x1="583.7" y1="393.1" x2="601" y2="393.1"/>
<line x1="568.8" y1="428.5" x2="586.8" y2="428.5"/>
<line x1="551.9" y1="477.9" x2="568.4" y2="477.9"/>
<line x1="181.9" y1="438.1" x2="181.9" y2="456.2"/>
<line x1="280.3" y1="472.3" x2="280.3" y2="490.1"/>
<line x1="229" y1="500.5" x2="229" y2="512.4"/>
<line x1="187.8" y1="523.5" x2="187.8" y2="539.1"/>
<line x1="264.7" y1="534.7" x2="264.7" y2="553.6"/>
<line x1="412.5" y1="485.3" x2="429.5" y2="485.3"/>
<line x1="228.1" y1="603.5" x2="228.1" y2="621.4"/>
<line x1="289.4" y1="588.3" x2="289.4" y2="607.2"/>
<line x1="329.2" y1="582" x2="329.2" y2="600.9"/>
<line x1="362.3" y1="583" x2="362.3" y2="600.9"/>
<line x1="390" y1="571.5" x2="390" y2="584.1"/>
<line x1="172.5" y1="631.9" x2="172.5" y2="649.7"/>
<line x1="312.4" y1="679.5" x2="312.4" y2="699.4"/>
<line x1="219.2" y1="714.4" x2="219.2" y2="734.4"/>
<line x1="282.2" y1="727.3" x2="292.8" y2="727.3"/>
<line x1="567.7" y1="658.1" x2="567.7" y2="667.3"/>
</g>
<text x="216.5" y="58.2" text-anchor="middle">4</text>
<text x="179.6" y="70.6" text-anchor="middle">3</text>
<text x="206.8" y="121.2" text-anchor="middle">4</text>
<text x="163.3" y="134.7" text-anchor="middle">3</text>
<text x="166.5" y="211.7" text-anchor="middle">2</text>
<text x="511.7" y="51.8" text-anchor="middle">5</text>
<text x="605.6" y="44.9" text-anchor="middle">6</text>
<text x="515.2" y="159.9" text-anchor="middle">7</text>
<text x="545.3" y="256.0" text-anchor="middle">9</text>
<g><path d="M361.30,288.80 L361.30,280.15 M361.05,280.35 C360.43,281.48 359.55,281.98 358.55,282.23" fill="none" style="stroke:#1a1a1a;stroke-width:1.39px;stroke-linecap:butt"/><text x="363.75" y="288.8">0</text></g>
<g><path d="M417.75,344.90 L417.75,336.25 M417.50,336.45 C416.88,337.57 416.00,338.07 415.00,338.32" fill="none" style="stroke:#1a1a1a;stroke-width:1.39px;stroke-linecap:butt"/><text x="420.20" y="344.9">3</text></g>
<g><path d="M312.01,393.90 L312.01,385.25 M311.76,385.45 C311.14,386.57 310.26,387.07 309.26,387.32" fill="none" style="stroke:#1a1a1a;stroke-width:1.39px;stroke-linecap:butt"/><path d="M318.04,393.90 L318.04,385.25 M317.79,385.45 C317.16,386.57 316.29,387.07 315.29,387.32" fill="none" style="stroke:#1a1a1a;stroke-width:1.39px;stroke-linecap:butt"/></g>
<text x="428.1" y="409.9" text-anchor="middle">8</text>
<g><path d="M541.95,347.00 L541.95,338.35 M541.70,338.55 C541.07,339.68 540.20,340.18 539.20,340.43" fill="none" style="stroke:#1a1a1a;stroke-width:1.39px;stroke-linecap:butt"/><text x="544.40" y="347.0">8</text></g>
<g><path d="M618.25,347.80 L618.25,339.15 M618.00,339.35 C617.38,340.48 616.50,340.98 615.50,341.23" fill="none" style="stroke:#1a1a1a;stroke-width:1.39px;stroke-linecap:butt"/><text x="620.70" y="347.8">8</text></g>
<g><path d="M612.75,369.00 L612.75,360.35 M612.50,360.55 C611.88,361.68 611.00,362.18 610.00,362.43" fill="none" style="stroke:#1a1a1a;stroke-width:1.39px;stroke-linecap:butt"/><text x="615.20" y="369.0">9</text></g>
<text x="608.9" y="398.1" text-anchor="middle">20</text>
<g><text x="586.95" y="433.5">2</text><path d="M598.40,433.50 L598.40,424.85 M598.15,425.05 C597.52,426.18 596.65,426.68 595.65,426.93" fill="none" style="stroke:#1a1a1a;stroke-width:1.39px;stroke-linecap:butt"/></g>
<text x="576.3" y="482.4" text-anchor="middle">22</text>
<g><path d="M179.95,436.80 L179.95,428.15 M179.70,428.35 C179.08,429.48 178.20,429.98 177.20,430.23" fill="none" style="stroke:#1a1a1a;stroke-width:1.39px;stroke-linecap:butt"/><text x="182.40" y="436.8">2</text></g>
<g><path d="M278.25,472.00 L278.25,463.35 M278.00,463.55 C277.38,464.68 276.50,465.18 275.50,465.43" fill="none" style="stroke:#1a1a1a;stroke-width:1.39px;stroke-linecap:butt"/><text x="280.70" y="472.0">6</text></g>
<g><path d="M226.55,499.90 L226.55,491.25 M226.30,491.45 C225.68,492.57 224.80,493.07 223.80,493.32" fill="none" style="stroke:#1a1a1a;stroke-width:1.39px;stroke-linecap:butt"/><text x="229.00" y="499.9">5</text></g>
<g><path d="M185.75,523.00 L185.75,514.35 M185.50,514.55 C184.88,515.67 184.00,516.17 183.00,516.42" fill="none" style="stroke:#1a1a1a;stroke-width:1.39px;stroke-linecap:butt"/><text x="188.20" y="523.0">4</text></g>
<g><path d="M263.35,564.50 L263.35,555.85 M263.10,556.05 C262.48,557.17 261.60,557.67 260.60,557.92" fill="none" style="stroke:#1a1a1a;stroke-width:1.39px;stroke-linecap:butt"/><text x="265.80" y="564.5">7</text></g>
<text x="407.4" y="489.5" text-anchor="middle">7</text>
<text x="228.1" y="601.5" text-anchor="middle">24</text>
<g><path d="M287.35,587.20 L287.35,578.55 M287.10,578.75 C286.48,579.88 285.60,580.38 284.60,580.62" fill="none" style="stroke:#1a1a1a;stroke-width:1.39px;stroke-linecap:butt"/><text x="289.80" y="587.2">5</text></g>
<text x="329.2" y="581.0" text-anchor="middle">27</text>
<text x="362.3" y="582.0" text-anchor="middle">30</text>
<text x="312.8" y="708.9" text-anchor="middle">28</text>
<text x="219.6" y="744.5" text-anchor="middle">26</text>
<text x="299.9" y="731.5" text-anchor="middle">25</text>
<circle cx="260" cy="44.5" r="9" fill="none" stroke="#141414" stroke-width="1.25"/>
<g><path d="M260.98,47.80 L260.98,39.51 M260.74,39.69 C260.14,40.77 259.30,41.25 258.34,41.49" fill="none" style="stroke:#1a1a1a;stroke-width:1.35px;stroke-linecap:butt"/></g>
<circle cx="390" cy="562.5" r="9" fill="none" stroke="#141414" stroke-width="1.25"/>
<text x="390" y="565.8" text-anchor="middle" style="font-size:12px">29</text>
<circle cx="172.5" cy="622.4" r="9" fill="none" stroke="#141414" stroke-width="1.25"/>
<text x="172.5" y="625.7" text-anchor="middle" style="font-size:12px">23</text>
<circle cx="568.4" cy="675.1" r="9" fill="none" stroke="#141414" stroke-width="1.25"/>
<g><text x="561.73" y="678.4" style="font-size:12px">3</text><path d="M572.72,678.40 L572.72,670.11 M572.48,670.29 C571.88,671.37 571.04,671.85 570.08,672.09" fill="none" style="stroke:#1a1a1a;stroke-width:1.35px;stroke-linecap:butt"/></g>
<g><path d="M585.70,747.80 L585.70,740.94 M585.50,741.04 C585.00,741.94 584.30,742.34 583.50,742.54" fill="none" style="stroke:#1a1a1a;stroke-width:1.15px;stroke-linecap:butt"/><text x="587.66" y="747.8" style="font-size:10px;stroke-width:0.4px">8</text><text x="593.22" y="747.8" style="font-size:10px;stroke-width:0.4px">7</text><text x="598.78" y="747.8" style="font-size:10px;stroke-width:0.4px">9</text><text x="604.34" y="747.8" style="font-size:10px;stroke-width:0.4px">4</text></g>

</svg>
</body></html>
